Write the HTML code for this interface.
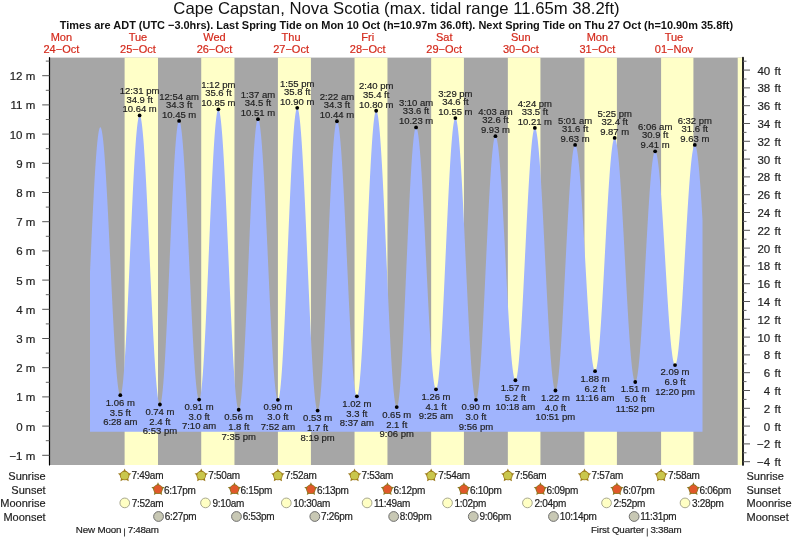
<!DOCTYPE html><html><head><meta charset="utf-8"><style>html,body{margin:0;padding:0;background:#fff;overflow:hidden}svg{display:block;will-change:transform}text{font-family:"Liberation Sans",sans-serif}.d{stroke:#222;stroke-width:0.18px}</style></head><body>
<svg width="793" height="539" viewBox="0 0 793 539">
<rect width="793" height="539" fill="#fff"/>
<rect x="50" y="57.6" width="692.5" height="407.4" fill="#a6a6a6"/>
<rect x="124.61" y="57.6" width="33.39" height="407.4" fill="#ffffc8"/>
<rect x="201.23" y="57.6" width="33.23" height="407.4" fill="#ffffc8"/>
<rect x="277.91" y="57.6" width="33.02" height="407.4" fill="#ffffc8"/>
<rect x="354.54" y="57.6" width="32.92" height="407.4" fill="#ffffc8"/>
<rect x="431.16" y="57.6" width="32.76" height="407.4" fill="#ffffc8"/>
<rect x="507.84" y="57.6" width="32.60" height="407.4" fill="#ffffc8"/>
<rect x="584.47" y="57.6" width="32.44" height="407.4" fill="#ffffc8"/>
<rect x="661.09" y="57.6" width="32.33" height="407.4" fill="#ffffc8"/>
<rect x="737.72" y="57.6" width="4.78" height="407.4" fill="#ffffc8"/>
<path d="M90.0,431.7 L90.00,272.06 L90.25,266.62 L90.50,261.19 L90.75,255.76 L91.00,250.34 L91.25,244.95 L91.50,239.60 L91.75,234.28 L92.00,229.01 L92.25,223.80 L92.50,218.66 L92.75,213.59 L93.00,208.60 L93.25,203.70 L93.50,198.89 L93.75,194.19 L94.00,189.59 L94.25,185.12 L94.50,180.77 L94.75,176.55 L95.00,172.46 L95.25,168.52 L95.50,164.73 L95.75,161.10 L96.00,157.62 L96.25,154.31 L96.50,151.18 L96.75,148.22 L97.00,145.44 L97.25,142.84 L97.50,140.43 L97.75,138.22 L98.00,136.20 L98.25,134.38 L98.50,132.76 L98.75,131.35 L99.00,130.14 L99.25,129.14 L99.50,128.35 L99.75,127.77 L100.00,127.40 L100.25,127.24 L100.50,127.30 L100.75,127.56 L101.00,128.03 L101.25,128.70 L101.50,129.58 L101.75,130.66 L102.00,131.94 L102.25,133.43 L102.50,135.10 L102.75,136.98 L103.00,139.04 L103.25,141.30 L103.50,143.74 L103.75,146.36 L104.00,149.15 L104.25,152.12 L104.50,155.26 L104.75,158.56 L105.00,162.02 L105.25,165.63 L105.50,169.39 L105.75,173.30 L106.00,177.33 L106.25,181.50 L106.50,185.79 L106.75,190.20 L107.00,194.71 L107.25,199.33 L107.50,204.05 L107.75,208.85 L108.00,213.73 L108.25,218.69 L108.50,223.71 L108.75,228.79 L109.00,233.92 L109.25,239.09 L109.50,244.29 L109.75,249.53 L110.00,254.78 L110.25,260.04 L110.50,265.30 L110.75,270.55 L111.00,275.79 L111.25,281.01 L111.50,286.20 L111.75,291.35 L112.00,296.45 L112.25,301.50 L112.50,306.48 L112.75,311.40 L113.00,316.24 L113.25,320.99 L113.50,325.65 L113.75,330.21 L114.00,334.67 L114.25,339.01 L114.50,343.23 L114.75,347.33 L115.00,351.29 L115.25,355.11 L115.50,358.79 L115.75,362.32 L116.00,365.69 L116.25,368.90 L116.50,371.95 L116.75,374.82 L117.00,377.52 L117.25,380.04 L117.50,382.37 L117.75,384.52 L118.00,386.48 L118.25,388.25 L118.50,389.81 L118.75,391.19 L119.00,392.35 L119.25,393.32 L119.50,394.09 L119.75,394.64 L120.00,395.00 L120.25,395.14 L120.50,395.08 L120.75,394.78 L121.00,394.25 L121.25,393.49 L121.50,392.50 L121.75,391.28 L122.00,389.84 L122.25,388.18 L122.50,386.29 L122.75,384.19 L123.00,381.88 L123.25,379.35 L123.50,376.62 L123.75,373.69 L124.00,370.57 L124.25,367.25 L124.50,363.75 L124.75,360.07 L125.00,356.21 L125.25,352.19 L125.50,348.01 L125.75,343.67 L126.00,339.19 L126.25,334.57 L126.50,329.82 L126.75,324.94 L127.00,319.95 L127.25,314.85 L127.50,309.65 L127.75,304.37 L128.00,299.00 L128.25,293.56 L128.50,288.05 L128.75,282.49 L129.00,276.89 L129.25,271.25 L129.50,265.59 L129.75,259.90 L130.00,254.21 L130.25,248.53 L130.50,242.85 L130.75,237.19 L131.00,231.56 L131.25,225.98 L131.50,220.44 L131.75,214.96 L132.00,209.54 L132.25,204.20 L132.50,198.95 L132.75,193.79 L133.00,188.73 L133.25,183.78 L133.50,178.95 L133.75,174.24 L134.00,169.67 L134.25,165.25 L134.50,160.97 L134.75,156.84 L135.00,152.88 L135.25,149.09 L135.50,145.48 L135.75,142.04 L136.00,138.80 L136.25,135.74 L136.50,132.89 L136.75,130.24 L137.00,127.79 L137.25,125.56 L137.50,123.54 L137.75,121.73 L138.00,120.15 L138.25,118.80 L138.50,117.67 L138.75,116.76 L139.00,116.09 L139.25,115.64 L139.50,115.43 L139.75,115.45 L140.00,115.68 L140.25,116.13 L140.50,116.80 L140.75,117.67 L141.00,118.77 L141.25,120.07 L141.50,121.58 L141.75,123.30 L142.00,125.22 L142.25,127.34 L142.50,129.67 L142.75,132.18 L143.00,134.89 L143.25,137.78 L143.50,140.86 L143.75,144.12 L144.00,147.55 L144.25,151.14 L144.50,154.90 L144.75,158.82 L145.00,162.88 L145.25,167.10 L145.50,171.45 L145.75,175.93 L146.00,180.54 L146.25,185.27 L146.50,190.11 L146.75,195.05 L147.00,200.09 L147.25,205.22 L147.50,210.44 L147.75,215.72 L148.00,221.07 L148.25,226.48 L148.50,231.94 L148.75,237.45 L149.00,242.98 L149.25,248.54 L149.50,254.12 L149.75,259.71 L150.00,265.30 L150.25,270.88 L150.50,276.44 L150.75,281.98 L151.00,287.48 L151.25,292.95 L151.50,298.36 L151.75,303.72 L152.00,309.01 L152.25,314.23 L152.50,319.37 L152.75,324.42 L153.00,329.37 L153.25,334.22 L153.50,338.96 L153.75,343.58 L154.00,348.07 L154.25,352.43 L154.50,356.66 L154.75,360.74 L155.00,364.67 L155.25,368.44 L155.50,372.05 L155.75,375.50 L156.00,378.77 L156.25,381.86 L156.50,384.77 L156.75,387.49 L157.00,390.03 L157.25,392.37 L157.50,394.51 L157.75,396.45 L158.00,398.18 L158.25,399.71 L158.50,401.03 L158.75,402.14 L159.00,403.04 L159.25,403.72 L159.50,404.19 L159.75,404.44 L160.00,404.48 L160.25,404.28 L160.50,403.85 L160.75,403.18 L161.00,402.27 L161.25,401.13 L161.50,399.76 L161.75,398.16 L162.00,396.34 L162.25,394.29 L162.50,392.02 L162.75,389.53 L163.00,386.83 L163.25,383.92 L163.50,380.81 L163.75,377.51 L164.00,374.01 L164.25,370.32 L164.50,366.45 L164.75,362.42 L165.00,358.21 L165.25,353.84 L165.50,349.32 L165.75,344.66 L166.00,339.86 L166.25,334.93 L166.50,329.88 L166.75,324.72 L167.00,319.45 L167.25,314.09 L167.50,308.64 L167.75,303.12 L168.00,297.52 L168.25,291.87 L168.50,286.18 L168.75,280.44 L169.00,274.67 L169.25,268.88 L169.50,263.08 L169.75,257.28 L170.00,251.49 L170.25,245.72 L170.50,239.98 L170.75,234.28 L171.00,228.62 L171.25,223.02 L171.50,217.49 L171.75,212.03 L172.00,206.66 L172.25,201.38 L172.50,196.20 L172.75,191.14 L173.00,186.19 L173.25,181.37 L173.50,176.69 L173.75,172.16 L174.00,167.77 L174.25,163.54 L174.50,159.48 L174.75,155.60 L175.00,151.89 L175.25,148.37 L175.50,145.03 L175.75,141.90 L176.00,138.97 L176.25,136.24 L176.50,133.73 L176.75,131.43 L177.00,129.36 L177.25,127.50 L177.50,125.87 L177.75,124.47 L178.00,123.31 L178.25,122.37 L178.50,121.67 L178.75,121.21 L179.00,120.98 L179.25,120.99 L179.50,121.22 L179.75,121.66 L180.00,122.31 L180.25,123.18 L180.50,124.25 L180.75,125.54 L181.00,127.03 L181.25,128.74 L181.50,130.64 L181.75,132.74 L182.00,135.04 L182.25,137.54 L182.50,140.22 L182.75,143.09 L183.00,146.14 L183.25,149.36 L183.50,152.76 L183.75,156.32 L184.00,160.04 L184.25,163.92 L184.50,167.94 L184.75,172.11 L185.00,176.41 L185.25,180.84 L185.50,185.40 L185.75,190.07 L186.00,194.85 L186.25,199.73 L186.50,204.70 L186.75,209.76 L187.00,214.90 L187.25,220.11 L187.50,225.38 L187.75,230.70 L188.00,236.07 L188.25,241.47 L188.50,246.91 L188.75,252.36 L189.00,257.83 L189.25,263.30 L189.50,268.77 L189.75,274.22 L190.00,279.65 L190.25,285.05 L190.50,290.42 L190.75,295.73 L191.00,300.99 L191.25,306.19 L191.50,311.32 L191.75,316.37 L192.00,321.33 L192.25,326.20 L192.50,330.97 L192.75,335.63 L193.00,340.17 L193.25,344.59 L193.50,348.88 L193.75,353.03 L194.00,357.03 L194.25,360.89 L194.50,364.60 L194.75,368.14 L195.00,371.52 L195.25,374.72 L195.50,377.75 L195.75,380.59 L196.00,383.25 L196.25,385.73 L196.50,388.00 L196.75,390.08 L197.00,391.96 L197.25,393.64 L197.50,395.11 L197.75,396.37 L198.00,397.43 L198.25,398.27 L198.50,398.89 L198.75,399.31 L199.00,399.51 L199.25,399.49 L199.50,399.23 L199.75,398.73 L200.00,397.99 L200.25,397.01 L200.50,395.80 L200.75,394.34 L201.00,392.66 L201.25,390.74 L201.50,388.60 L201.75,386.24 L202.00,383.65 L202.25,380.85 L202.50,377.84 L202.75,374.63 L203.00,371.21 L203.25,367.60 L203.50,363.80 L203.75,359.82 L204.00,355.67 L204.25,351.34 L204.50,346.86 L204.75,342.22 L205.00,337.43 L205.25,332.51 L205.50,327.45 L205.75,322.28 L206.00,316.99 L206.25,311.59 L206.50,306.11 L206.75,300.53 L207.00,294.88 L207.25,289.16 L207.50,283.39 L207.75,277.56 L208.00,271.70 L208.25,265.81 L208.50,259.90 L208.75,253.98 L209.00,248.06 L209.25,242.15 L209.50,236.26 L209.75,230.40 L210.00,224.58 L210.25,218.82 L210.50,213.11 L210.75,207.47 L211.00,201.90 L211.25,196.43 L211.50,191.05 L211.75,185.78 L212.00,180.62 L212.25,175.58 L212.50,170.68 L212.75,165.91 L213.00,161.29 L213.25,156.83 L213.50,152.53 L213.75,148.40 L214.00,144.44 L214.25,140.67 L214.50,137.09 L214.75,133.70 L215.00,130.52 L215.25,127.54 L215.50,124.77 L215.75,122.21 L216.00,119.88 L216.25,117.77 L216.50,115.89 L216.75,114.24 L217.00,112.82 L217.25,111.64 L217.50,110.70 L217.75,109.99 L218.00,109.53 L218.25,109.30 L218.50,109.32 L218.75,109.56 L219.00,110.02 L219.25,110.70 L219.50,111.61 L219.75,112.74 L220.00,114.08 L220.25,115.64 L220.50,117.42 L220.75,119.40 L221.00,121.60 L221.25,124.00 L221.50,126.60 L221.75,129.40 L222.00,132.39 L222.25,135.57 L222.50,138.94 L222.75,142.48 L223.00,146.20 L223.25,150.09 L223.50,154.14 L223.75,158.34 L224.00,162.70 L224.25,167.20 L224.50,171.84 L224.75,176.61 L225.00,181.50 L225.25,186.51 L225.50,191.63 L225.75,196.84 L226.00,202.15 L226.25,207.55 L226.50,213.02 L226.75,218.57 L227.00,224.17 L227.25,229.82 L227.50,235.52 L227.75,241.26 L228.00,247.02 L228.25,252.80 L228.50,258.60 L228.75,264.39 L229.00,270.17 L229.25,275.94 L229.50,281.69 L229.75,287.40 L230.00,293.07 L230.25,298.69 L230.50,304.26 L230.75,309.75 L231.00,315.17 L231.25,320.51 L231.50,325.76 L231.75,330.91 L232.00,335.95 L232.25,340.88 L232.50,345.69 L232.75,350.37 L233.00,354.92 L233.25,359.32 L233.50,363.58 L233.75,367.68 L234.00,371.62 L234.25,375.39 L234.50,378.99 L234.75,382.41 L235.00,385.65 L235.25,388.70 L235.50,391.56 L235.75,394.23 L236.00,396.69 L236.25,398.95 L236.50,401.00 L236.75,402.85 L237.00,404.48 L237.25,405.89 L237.50,407.08 L237.75,408.06 L238.00,408.82 L238.25,409.35 L238.50,409.66 L238.75,409.75 L239.00,409.60 L239.25,409.21 L239.50,408.58 L239.75,407.71 L240.00,406.60 L240.25,405.26 L240.50,403.68 L240.75,401.87 L241.00,399.83 L241.25,397.56 L241.50,395.08 L241.75,392.37 L242.00,389.46 L242.25,386.33 L242.50,383.01 L242.75,379.48 L243.00,375.77 L243.25,371.86 L243.50,367.78 L243.75,363.53 L244.00,359.11 L244.25,354.54 L244.50,349.82 L244.75,344.95 L245.00,339.95 L245.25,334.82 L245.50,329.58 L245.75,324.23 L246.00,318.78 L246.25,313.24 L246.50,307.61 L246.75,301.92 L247.00,296.16 L247.25,290.35 L247.50,284.50 L247.75,278.62 L248.00,272.71 L248.25,266.78 L248.50,260.86 L248.75,254.94 L249.00,249.03 L249.25,243.15 L249.50,237.31 L249.75,231.51 L250.00,225.77 L250.25,220.09 L250.50,214.48 L250.75,208.96 L251.00,203.53 L251.25,198.20 L251.50,192.99 L251.75,187.89 L252.00,182.92 L252.25,178.08 L252.50,173.39 L252.75,168.85 L253.00,164.47 L253.25,160.25 L253.50,156.21 L253.75,152.35 L254.00,148.68 L254.25,145.20 L254.50,141.91 L254.75,138.83 L255.00,135.96 L255.25,133.31 L255.50,130.87 L255.75,128.66 L256.00,126.67 L256.25,124.91 L256.50,123.38 L256.75,122.09 L257.00,121.03 L257.25,120.22 L257.50,119.64 L257.75,119.30 L258.00,119.21 L258.25,119.34 L258.50,119.69 L258.75,120.26 L259.00,121.04 L259.25,122.04 L259.50,123.25 L259.75,124.68 L260.00,126.31 L260.25,128.15 L260.50,130.19 L260.75,132.43 L261.00,134.87 L261.25,137.51 L261.50,140.33 L261.75,143.34 L262.00,146.52 L262.25,149.89 L262.50,153.42 L262.75,157.12 L263.00,160.97 L263.25,164.98 L263.50,169.14 L263.75,173.44 L264.00,177.87 L264.25,182.42 L264.50,187.10 L264.75,191.89 L265.00,196.78 L265.25,201.77 L265.50,206.85 L265.75,212.01 L266.00,217.25 L266.25,222.55 L266.50,227.91 L266.75,233.31 L267.00,238.76 L267.25,244.24 L267.50,249.75 L267.75,255.26 L268.00,260.79 L268.25,266.31 L268.50,271.83 L268.75,277.32 L269.00,282.79 L269.25,288.22 L269.50,293.60 L269.75,298.94 L270.00,304.21 L270.25,309.41 L270.50,314.53 L270.75,319.57 L271.00,324.52 L271.25,329.37 L271.50,334.10 L271.75,338.72 L272.00,343.22 L272.25,347.59 L272.50,351.82 L272.75,355.91 L273.00,359.85 L273.25,363.64 L273.50,367.26 L273.75,370.71 L274.00,374.00 L274.25,377.10 L274.50,380.03 L274.75,382.76 L275.00,385.31 L275.25,387.66 L275.50,389.81 L275.75,391.75 L276.00,393.50 L276.25,395.03 L276.50,396.36 L276.75,397.47 L277.00,398.37 L277.25,399.06 L277.50,399.52 L277.75,399.77 L278.00,399.81 L278.25,399.60 L278.50,399.15 L278.75,398.47 L279.00,397.54 L279.25,396.37 L279.50,394.97 L279.75,393.34 L280.00,391.48 L280.25,389.38 L280.50,387.06 L280.75,384.53 L281.00,381.77 L281.25,378.81 L281.50,375.63 L281.75,372.26 L282.00,368.69 L282.25,364.93 L282.50,360.98 L282.75,356.86 L283.00,352.57 L283.25,348.11 L283.50,343.50 L283.75,338.74 L284.00,333.84 L284.25,328.80 L284.50,323.64 L284.75,318.37 L285.00,312.99 L285.25,307.51 L285.50,301.95 L285.75,296.30 L286.00,290.58 L286.25,284.80 L286.50,278.97 L286.75,273.10 L287.00,267.20 L287.25,261.27 L287.50,255.34 L287.75,249.40 L288.00,243.47 L288.25,237.55 L288.50,231.66 L288.75,225.81 L289.00,220.00 L289.25,214.25 L289.50,208.57 L289.75,202.96 L290.00,197.44 L290.25,192.01 L290.50,186.68 L290.75,181.46 L291.00,176.36 L291.25,171.39 L291.50,166.56 L291.75,161.87 L292.00,157.33 L292.25,152.95 L292.50,148.74 L292.75,144.71 L293.00,140.85 L293.25,137.18 L293.50,133.71 L293.75,130.43 L294.00,127.36 L294.25,124.49 L294.50,121.84 L294.75,119.41 L295.00,117.21 L295.25,115.22 L295.50,113.47 L295.75,111.95 L296.00,110.67 L296.25,109.62 L296.50,108.81 L296.75,108.24 L297.00,107.91 L297.25,107.82 L297.50,107.97 L297.75,108.33 L298.00,108.92 L298.25,109.74 L298.50,110.77 L298.75,112.02 L299.00,113.49 L299.25,115.18 L299.50,117.08 L299.75,119.19 L300.00,121.51 L300.25,124.03 L300.50,126.75 L300.75,129.66 L301.00,132.77 L301.25,136.07 L301.50,139.55 L301.75,143.20 L302.00,147.03 L302.25,151.02 L302.50,155.17 L302.75,159.48 L303.00,163.93 L303.25,168.53 L303.50,173.26 L303.75,178.11 L304.00,183.09 L304.25,188.18 L304.50,193.37 L304.75,198.66 L305.00,204.04 L305.25,209.50 L305.50,215.04 L305.75,220.64 L306.00,226.30 L306.25,232.01 L306.50,237.75 L306.75,243.53 L307.00,249.34 L307.25,255.15 L307.50,260.98 L307.75,266.80 L308.00,272.60 L308.25,278.39 L308.50,284.16 L308.75,289.88 L309.00,295.56 L309.25,301.18 L309.50,306.75 L309.75,312.24 L310.00,317.65 L310.25,322.98 L310.50,328.21 L310.75,333.35 L311.00,338.37 L311.25,343.27 L311.50,348.05 L311.75,352.70 L312.00,357.21 L312.25,361.58 L312.50,365.79 L312.75,369.85 L313.00,373.74 L313.25,377.47 L313.50,381.01 L313.75,384.38 L314.00,387.57 L314.25,390.56 L314.50,393.36 L314.75,395.96 L315.00,398.36 L315.25,400.55 L315.50,402.53 L315.75,404.31 L316.00,405.86 L316.25,407.20 L316.50,408.32 L316.75,409.22 L317.00,409.90 L317.25,410.36 L317.50,410.59 L317.75,410.60 L318.00,410.37 L318.25,409.90 L318.50,409.19 L318.75,408.25 L319.00,407.06 L319.25,405.65 L319.50,404.00 L319.75,402.13 L320.00,400.03 L320.25,397.71 L320.50,395.17 L320.75,392.42 L321.00,389.45 L321.25,386.29 L321.50,382.92 L321.75,379.36 L322.00,375.61 L322.25,371.68 L322.50,367.58 L322.75,363.30 L323.00,358.87 L323.25,354.28 L323.50,349.55 L323.75,344.68 L324.00,339.67 L324.25,334.55 L324.50,329.31 L324.75,323.97 L325.00,318.53 L325.25,313.00 L325.50,307.40 L325.75,301.72 L326.00,295.99 L326.25,290.21 L326.50,284.39 L326.75,278.53 L327.00,272.66 L327.25,266.78 L327.50,260.89 L327.75,255.01 L328.00,249.15 L328.25,243.32 L328.50,237.53 L328.75,231.78 L329.00,226.09 L329.25,220.46 L329.50,214.91 L329.75,209.45 L330.00,204.08 L330.25,198.81 L330.50,193.65 L330.75,188.61 L331.00,183.70 L331.25,178.93 L331.50,174.30 L331.75,169.82 L332.00,165.50 L332.25,161.34 L332.50,157.36 L332.75,153.56 L333.00,149.95 L333.25,146.53 L333.50,143.30 L333.75,140.28 L334.00,137.47 L334.25,134.87 L334.50,132.48 L334.75,130.32 L335.00,128.38 L335.25,126.67 L335.50,125.19 L335.75,123.94 L336.00,122.93 L336.25,122.16 L336.50,121.62 L336.75,121.32 L337.00,121.26 L337.25,121.42 L337.50,121.79 L337.75,122.38 L338.00,123.18 L338.25,124.18 L338.50,125.40 L338.75,126.83 L339.00,128.45 L339.25,130.28 L339.50,132.31 L339.75,134.54 L340.00,136.96 L340.25,139.57 L340.50,142.36 L340.75,145.33 L341.00,148.48 L341.25,151.80 L341.50,155.29 L341.75,158.93 L342.00,162.74 L342.25,166.69 L342.50,170.78 L342.75,175.01 L343.00,179.37 L343.25,183.85 L343.50,188.45 L343.75,193.16 L344.00,197.97 L344.25,202.88 L344.50,207.87 L344.75,212.94 L345.00,218.08 L345.25,223.28 L345.50,228.54 L345.75,233.85 L346.00,239.19 L346.25,244.57 L346.50,249.97 L346.75,255.38 L347.00,260.80 L347.25,266.21 L347.50,271.61 L347.75,276.99 L348.00,282.35 L348.25,287.66 L348.50,292.94 L348.75,298.16 L349.00,303.31 L349.25,308.40 L349.50,313.42 L349.75,318.34 L350.00,323.18 L350.25,327.91 L350.50,332.54 L350.75,337.06 L351.00,341.45 L351.25,345.71 L351.50,349.84 L351.75,353.83 L352.00,357.67 L352.25,361.36 L352.50,364.88 L352.75,368.25 L353.00,371.44 L353.25,374.46 L353.50,377.30 L353.75,379.96 L354.00,382.42 L354.25,384.70 L354.50,386.78 L354.75,388.66 L355.00,390.34 L355.25,391.82 L355.50,393.09 L355.75,394.15 L356.00,395.00 L356.25,395.64 L356.50,396.07 L356.75,396.29 L357.00,396.29 L357.25,396.05 L357.50,395.58 L357.75,394.88 L358.00,393.94 L358.25,392.77 L358.50,391.37 L358.75,389.74 L359.00,387.88 L359.25,385.80 L359.50,383.51 L359.75,380.99 L360.00,378.27 L360.25,375.34 L360.50,372.21 L360.75,368.88 L361.00,365.36 L361.25,361.66 L361.50,357.78 L361.75,353.72 L362.00,349.50 L362.25,345.12 L362.50,340.59 L362.75,335.91 L363.00,331.10 L363.25,326.16 L363.50,321.10 L363.75,315.93 L364.00,310.65 L364.25,305.28 L364.50,299.82 L364.75,294.29 L365.00,288.69 L365.25,283.03 L365.50,277.32 L365.75,271.58 L366.00,265.80 L366.25,260.00 L366.50,254.20 L366.75,248.39 L367.00,242.59 L367.25,236.80 L367.50,231.05 L367.75,225.33 L368.00,219.66 L368.25,214.05 L368.50,208.50 L368.75,203.02 L369.00,197.63 L369.25,192.33 L369.50,187.14 L369.75,182.05 L370.00,177.08 L370.25,172.24 L370.50,167.53 L370.75,162.97 L371.00,158.55 L371.25,154.29 L371.50,150.20 L371.75,146.27 L372.00,142.53 L372.25,138.97 L372.50,135.59 L372.75,132.42 L373.00,129.44 L373.25,126.67 L373.50,124.11 L373.75,121.76 L374.00,119.63 L374.25,117.73 L374.50,116.04 L374.75,114.59 L375.00,113.37 L375.25,112.37 L375.50,111.61 L375.75,111.09 L376.00,110.80 L376.25,110.75 L376.50,110.92 L376.75,111.30 L377.00,111.91 L377.25,112.72 L377.50,113.75 L377.75,115.00 L378.00,116.45 L378.25,118.12 L378.50,119.98 L378.75,122.06 L379.00,124.33 L379.25,126.80 L379.50,129.46 L379.75,132.32 L380.00,135.36 L380.25,138.58 L380.50,141.97 L380.75,145.54 L381.00,149.27 L381.25,153.16 L381.50,157.21 L381.75,161.41 L382.00,165.75 L382.25,170.23 L382.50,174.83 L382.75,179.56 L383.00,184.41 L383.25,189.36 L383.50,194.42 L383.75,199.57 L384.00,204.81 L384.25,210.12 L384.50,215.51 L384.75,220.96 L385.00,226.47 L385.25,232.03 L385.50,237.62 L385.75,243.25 L386.00,248.89 L386.25,254.56 L386.50,260.23 L386.75,265.90 L387.00,271.55 L387.25,277.19 L387.50,282.81 L387.75,288.38 L388.00,293.92 L388.25,299.40 L388.50,304.82 L388.75,310.18 L389.00,315.46 L389.25,320.66 L389.50,325.77 L389.75,330.78 L390.00,335.69 L390.25,340.48 L390.50,345.15 L390.75,349.70 L391.00,354.12 L391.25,358.39 L391.50,362.52 L391.75,366.50 L392.00,370.32 L392.25,373.98 L392.50,377.47 L392.75,380.78 L393.00,383.92 L393.25,386.87 L393.50,389.64 L393.75,392.21 L394.00,394.59 L394.25,396.78 L394.50,398.76 L394.75,400.53 L395.00,402.10 L395.25,403.46 L395.50,404.60 L395.75,405.54 L396.00,406.26 L396.25,406.76 L396.50,407.05 L396.75,407.12 L397.00,406.96 L397.25,406.57 L397.50,405.96 L397.75,405.12 L398.00,404.04 L398.25,402.75 L398.50,401.23 L398.75,399.49 L399.00,397.53 L399.25,395.36 L399.50,392.98 L399.75,390.39 L400.00,387.60 L400.25,384.61 L400.50,381.42 L400.75,378.05 L401.00,374.50 L401.25,370.77 L401.50,366.86 L401.75,362.80 L402.00,358.58 L402.25,354.21 L402.50,349.69 L402.75,345.04 L403.00,340.26 L403.25,335.36 L403.50,330.35 L403.75,325.23 L404.00,320.02 L404.25,314.72 L404.50,309.35 L404.75,303.90 L405.00,298.39 L405.25,292.84 L405.50,287.24 L405.75,281.61 L406.00,275.95 L406.25,270.28 L406.50,264.61 L406.75,258.93 L407.00,253.28 L407.25,247.64 L407.50,242.04 L407.75,236.48 L408.00,230.97 L408.25,225.52 L408.50,220.14 L408.75,214.84 L409.00,209.62 L409.25,204.50 L409.50,199.48 L409.75,194.57 L410.00,189.78 L410.25,185.12 L410.50,180.60 L410.75,176.22 L411.00,171.98 L411.25,167.91 L411.50,163.99 L411.75,160.25 L412.00,156.69 L412.25,153.30 L412.50,150.11 L412.75,147.10 L413.00,144.30 L413.25,141.69 L413.50,139.30 L413.75,137.11 L414.00,135.14 L414.25,133.38 L414.50,131.85 L414.75,130.54 L415.00,129.45 L415.25,128.59 L415.50,127.96 L415.75,127.56 L416.00,127.39 L416.25,127.44 L416.50,127.70 L416.75,128.15 L417.00,128.81 L417.25,129.67 L417.50,130.73 L417.75,131.99 L418.00,133.45 L418.25,135.09 L418.50,136.93 L418.75,138.96 L419.00,141.17 L419.25,143.57 L419.50,146.14 L419.75,148.88 L420.00,151.80 L420.25,154.88 L420.50,158.12 L420.75,161.52 L421.00,165.07 L421.25,168.76 L421.50,172.59 L421.75,176.55 L422.00,180.65 L422.25,184.86 L422.50,189.18 L422.75,193.61 L423.00,198.15 L423.25,202.77 L423.50,207.49 L423.75,212.28 L424.00,217.14 L424.25,222.07 L424.50,227.05 L424.75,232.08 L425.00,237.16 L425.25,242.26 L425.50,247.39 L425.75,252.54 L426.00,257.69 L426.25,262.85 L426.50,268.00 L426.75,273.14 L427.00,278.25 L427.25,283.33 L427.50,288.37 L427.75,293.37 L428.00,298.31 L428.25,303.19 L428.50,308.00 L428.75,312.74 L429.00,317.38 L429.25,321.94 L429.50,326.40 L429.75,330.75 L430.00,334.99 L430.25,339.12 L430.50,343.11 L430.75,346.98 L431.00,350.71 L431.25,354.29 L431.50,357.73 L431.75,361.01 L432.00,364.13 L432.25,367.09 L432.50,369.88 L432.75,372.49 L433.00,374.93 L433.25,377.19 L433.50,379.27 L433.75,381.15 L434.00,382.85 L434.25,384.35 L434.50,385.66 L434.75,386.77 L435.00,387.68 L435.25,388.39 L435.50,388.90 L435.75,389.20 L436.00,389.31 L436.25,389.20 L436.50,388.86 L436.75,388.31 L437.00,387.53 L437.25,386.53 L437.50,385.32 L437.75,383.88 L438.00,382.24 L438.25,380.38 L438.50,378.31 L438.75,376.04 L439.00,373.56 L439.25,370.89 L439.50,368.03 L439.75,364.97 L440.00,361.74 L440.25,358.32 L440.50,354.74 L440.75,350.98 L441.00,347.07 L441.25,343.01 L441.50,338.79 L441.75,334.44 L442.00,329.95 L442.25,325.34 L442.50,320.61 L442.75,315.77 L443.00,310.82 L443.25,305.79 L443.50,300.66 L443.75,295.46 L444.00,290.20 L444.25,284.87 L444.50,279.49 L444.75,274.06 L445.00,268.61 L445.25,263.13 L445.50,257.63 L445.75,252.13 L446.00,246.63 L446.25,241.14 L446.50,235.67 L446.75,230.23 L447.00,224.83 L447.25,219.48 L447.50,214.18 L447.75,208.95 L448.00,203.79 L448.25,198.72 L448.50,193.73 L448.75,188.85 L449.00,184.07 L449.25,179.40 L449.50,174.86 L449.75,170.45 L450.00,166.17 L450.25,162.04 L450.50,158.06 L450.75,154.23 L451.00,150.57 L451.25,147.08 L451.50,143.77 L451.75,140.63 L452.00,137.69 L452.25,134.93 L452.50,132.37 L452.75,130.01 L453.00,127.85 L453.25,125.90 L453.50,124.16 L453.75,122.63 L454.00,121.32 L454.25,120.23 L454.50,119.35 L454.75,118.70 L455.00,118.27 L455.25,118.06 L455.50,118.07 L455.75,118.29 L456.00,118.72 L456.25,119.35 L456.50,120.18 L456.75,121.21 L457.00,122.45 L457.25,123.88 L457.50,125.51 L457.75,127.33 L458.00,129.35 L458.25,131.55 L458.50,133.94 L458.75,136.52 L459.00,139.27 L459.25,142.19 L459.50,145.29 L459.75,148.55 L460.00,151.97 L460.25,155.54 L460.50,159.27 L460.75,163.14 L461.00,167.16 L461.25,171.30 L461.50,175.58 L461.75,179.97 L462.00,184.48 L462.25,189.10 L462.50,193.82 L462.75,198.63 L463.00,203.53 L463.25,208.52 L463.50,213.57 L463.75,218.70 L464.00,223.88 L464.25,229.11 L464.50,234.39 L464.75,239.70 L465.00,245.04 L465.25,250.40 L465.50,255.77 L465.75,261.15 L466.00,266.52 L466.25,271.88 L466.50,277.23 L466.75,282.54 L467.00,287.83 L467.25,293.07 L467.50,298.26 L467.75,303.39 L468.00,308.46 L468.25,313.46 L468.50,318.37 L468.75,323.20 L469.00,327.94 L469.25,332.58 L469.50,337.11 L469.75,341.52 L470.00,345.82 L470.25,349.99 L470.50,354.02 L470.75,357.92 L471.00,361.67 L471.25,365.28 L471.50,368.72 L471.75,372.01 L472.00,375.14 L472.25,378.09 L472.50,380.87 L472.75,383.48 L473.00,385.90 L473.25,388.14 L473.50,390.19 L473.75,392.05 L474.00,393.71 L474.25,395.18 L474.50,396.45 L474.75,397.52 L475.00,398.38 L475.25,399.05 L475.50,399.51 L475.75,399.76 L476.00,399.81 L476.25,399.65 L476.50,399.28 L476.75,398.69 L477.00,397.89 L477.25,396.88 L477.50,395.66 L477.75,394.24 L478.00,392.61 L478.25,390.78 L478.50,388.75 L478.75,386.53 L479.00,384.11 L479.25,381.50 L479.50,378.71 L479.75,375.74 L480.00,372.60 L480.25,369.29 L480.50,365.81 L480.75,362.18 L481.00,358.39 L481.25,354.46 L481.50,350.38 L481.75,346.17 L482.00,341.84 L482.25,337.39 L482.50,332.82 L482.75,328.15 L483.00,323.38 L483.25,318.52 L483.50,313.58 L483.75,308.57 L484.00,303.49 L484.25,298.35 L484.50,293.17 L484.75,287.94 L485.00,282.68 L485.25,277.40 L485.50,272.10 L485.75,266.79 L486.00,261.49 L486.25,256.20 L486.50,250.92 L486.75,245.68 L487.00,240.47 L487.25,235.30 L487.50,230.19 L487.75,225.14 L488.00,220.16 L488.25,215.25 L488.50,210.43 L488.75,205.71 L489.00,201.08 L489.25,196.56 L489.50,192.16 L489.75,187.89 L490.00,183.74 L490.25,179.73 L490.50,175.86 L490.75,172.14 L491.00,168.57 L491.25,165.17 L491.50,161.93 L491.75,158.87 L492.00,155.98 L492.25,153.27 L492.50,150.75 L492.75,148.42 L493.00,146.28 L493.25,144.34 L493.50,142.60 L493.75,141.06 L494.00,139.73 L494.25,138.60 L494.50,137.69 L494.75,136.98 L495.00,136.49 L495.25,136.21 L495.50,136.15 L495.75,136.28 L496.00,136.60 L496.25,137.11 L496.50,137.81 L496.75,138.69 L497.00,139.76 L497.25,141.01 L497.50,142.45 L497.75,144.06 L498.00,145.85 L498.25,147.82 L498.50,149.95 L498.75,152.26 L499.00,154.73 L499.25,157.36 L499.50,160.14 L499.75,163.08 L500.00,166.16 L500.25,169.39 L500.50,172.76 L500.75,176.26 L501.00,179.88 L501.25,183.63 L501.50,187.49 L501.75,191.46 L502.00,195.54 L502.25,199.71 L502.50,203.98 L502.75,208.33 L503.00,212.75 L503.25,217.25 L503.50,221.81 L503.75,226.42 L504.00,231.09 L504.25,235.79 L504.50,240.54 L504.75,245.30 L505.00,250.09 L505.25,254.90 L505.50,259.70 L505.75,264.51 L506.00,269.30 L506.25,274.08 L506.50,278.83 L506.75,283.55 L507.00,288.24 L507.25,292.87 L507.50,297.45 L507.75,301.97 L508.00,306.42 L508.25,310.80 L508.50,315.10 L508.75,319.31 L509.00,323.42 L509.25,327.43 L509.50,331.34 L509.75,335.13 L510.00,338.80 L510.25,342.35 L510.50,345.76 L510.75,349.04 L511.00,352.18 L511.25,355.18 L511.50,358.02 L511.75,360.71 L512.00,363.24 L512.25,365.60 L512.50,367.80 L512.75,369.83 L513.00,371.69 L513.25,373.37 L513.50,374.87 L513.75,376.19 L514.00,377.33 L514.25,378.29 L514.50,379.05 L514.75,379.63 L515.00,380.02 L515.25,380.23 L515.50,380.24 L515.75,380.05 L516.00,379.65 L516.25,379.05 L516.50,378.24 L516.75,377.24 L517.00,376.03 L517.25,374.63 L517.50,373.02 L517.75,371.23 L518.00,369.24 L518.25,367.07 L518.50,364.71 L518.75,362.17 L519.00,359.46 L519.25,356.58 L519.50,353.52 L519.75,350.31 L520.00,346.94 L520.25,343.42 L520.50,339.75 L520.75,335.95 L521.00,332.01 L521.25,327.94 L521.50,323.75 L521.75,319.45 L522.00,315.05 L522.25,310.54 L522.50,305.94 L522.75,301.26 L523.00,296.50 L523.25,291.68 L523.50,286.79 L523.75,281.84 L524.00,276.86 L524.25,271.83 L524.50,266.78 L524.75,261.71 L525.00,256.62 L525.25,251.53 L525.50,246.44 L525.75,241.37 L526.00,236.32 L526.25,231.29 L526.50,226.31 L526.75,221.37 L527.00,216.48 L527.25,211.65 L527.50,206.89 L527.75,202.21 L528.00,197.62 L528.25,193.11 L528.50,188.71 L528.75,184.41 L529.00,180.22 L529.25,176.16 L529.50,172.22 L529.75,168.42 L530.00,164.75 L530.25,161.23 L530.50,157.86 L530.75,154.65 L531.00,151.60 L531.25,148.72 L531.50,146.01 L531.75,143.48 L532.00,141.12 L532.25,138.95 L532.50,136.97 L532.75,135.17 L533.00,133.58 L533.25,132.17 L533.50,130.97 L533.75,129.97 L534.00,129.17 L534.25,128.57 L534.50,128.17 L534.75,127.99 L535.00,128.00 L535.25,128.21 L535.50,128.61 L535.75,129.19 L536.00,129.97 L536.25,130.94 L536.50,132.09 L536.75,133.43 L537.00,134.95 L537.25,136.65 L537.50,138.53 L537.75,140.59 L538.00,142.82 L538.25,145.21 L538.50,147.78 L538.75,150.51 L539.00,153.39 L539.25,156.43 L539.50,159.62 L539.75,162.95 L540.00,166.43 L540.25,170.04 L540.50,173.78 L540.75,177.64 L541.00,181.62 L541.25,185.72 L541.50,189.92 L541.75,194.22 L542.00,198.62 L542.25,203.11 L542.50,207.68 L542.75,212.32 L543.00,217.03 L543.25,221.81 L543.50,226.63 L543.75,231.51 L544.00,236.42 L544.25,241.37 L544.50,246.35 L544.75,251.34 L545.00,256.35 L545.25,261.35 L545.50,266.36 L545.75,271.36 L546.00,276.33 L546.25,281.29 L546.50,286.21 L546.75,291.09 L547.00,295.92 L547.25,300.71 L547.50,305.43 L547.75,310.08 L548.00,314.66 L548.25,319.16 L548.50,323.57 L548.75,327.89 L549.00,332.11 L549.25,336.22 L549.50,340.22 L549.75,344.10 L550.00,347.86 L550.25,351.49 L550.50,354.98 L550.75,358.34 L551.00,361.55 L551.25,364.61 L551.50,367.52 L551.75,370.27 L552.00,372.86 L552.25,375.28 L552.50,377.54 L552.75,379.62 L553.00,381.53 L553.25,383.25 L553.50,384.80 L553.75,386.17 L554.00,387.35 L554.25,388.34 L554.50,389.15 L554.75,389.76 L555.00,390.19 L555.25,390.42 L555.50,390.47 L555.75,390.32 L556.00,389.97 L556.25,389.43 L556.50,388.70 L556.75,387.77 L557.00,386.65 L557.25,385.34 L557.50,383.85 L557.75,382.17 L558.00,380.30 L558.25,378.26 L558.50,376.04 L558.75,373.65 L559.00,371.09 L559.25,368.37 L559.50,365.48 L559.75,362.44 L560.00,359.25 L560.25,355.91 L560.50,352.43 L560.75,348.82 L561.00,345.08 L561.25,341.21 L561.50,337.23 L561.75,333.13 L562.00,328.93 L562.25,324.64 L562.50,320.25 L562.75,315.78 L563.00,311.23 L563.25,306.62 L563.50,301.94 L563.75,297.21 L564.00,292.43 L564.25,287.61 L564.50,282.75 L564.75,277.88 L565.00,272.99 L565.25,268.09 L565.50,263.19 L565.75,258.29 L566.00,253.42 L566.25,248.56 L566.50,243.74 L566.75,238.95 L567.00,234.21 L567.25,229.52 L567.50,224.89 L567.75,220.33 L568.00,215.85 L568.25,211.45 L568.50,207.14 L568.75,202.92 L569.00,198.81 L569.25,194.81 L569.50,190.92 L569.75,187.16 L570.00,183.53 L570.25,180.03 L570.50,176.66 L570.75,173.45 L571.00,170.38 L571.25,167.47 L571.50,164.72 L571.75,162.13 L572.00,159.71 L572.25,157.47 L572.50,155.40 L572.75,153.50 L573.00,151.79 L573.25,150.27 L573.50,148.93 L573.75,147.78 L574.00,146.82 L574.25,146.05 L574.50,145.48 L574.75,145.10 L575.00,144.92 L575.25,144.93 L575.50,145.12 L575.75,145.48 L576.00,146.02 L576.25,146.73 L576.50,147.62 L576.75,148.67 L577.00,149.90 L577.25,151.29 L577.50,152.85 L577.75,154.57 L578.00,156.45 L578.25,158.49 L578.50,160.68 L578.75,163.03 L579.00,165.52 L579.25,168.16 L579.50,170.93 L579.75,173.84 L580.00,176.88 L580.25,180.05 L580.50,183.34 L580.75,186.74 L581.00,190.26 L581.25,193.88 L581.50,197.60 L581.75,201.41 L582.00,205.31 L582.25,209.29 L582.50,213.35 L582.75,217.48 L583.00,221.67 L583.25,225.92 L583.50,230.21 L583.75,234.55 L584.00,238.93 L584.25,243.34 L584.50,247.76 L584.75,252.21 L585.00,256.66 L585.25,261.12 L585.50,265.57 L585.75,270.01 L586.00,274.43 L586.25,278.83 L586.50,283.19 L586.75,287.52 L587.00,291.80 L587.25,296.02 L587.50,300.19 L587.75,304.29 L588.00,308.32 L588.25,312.28 L588.50,316.14 L588.75,319.92 L589.00,323.60 L589.25,327.19 L589.50,330.66 L589.75,334.02 L590.00,337.26 L590.25,340.38 L590.50,343.38 L590.75,346.24 L591.00,348.96 L591.25,351.54 L591.50,353.98 L591.75,356.27 L592.00,358.40 L592.25,360.38 L592.50,362.21 L592.75,363.87 L593.00,365.36 L593.25,366.69 L593.50,367.85 L593.75,368.85 L594.00,369.66 L594.25,370.31 L594.50,370.78 L594.75,371.08 L595.00,371.20 L595.25,371.14 L595.50,370.90 L595.75,370.47 L596.00,369.85 L596.25,369.05 L596.50,368.07 L596.75,366.90 L597.00,365.55 L597.25,364.03 L597.50,362.33 L597.75,360.46 L598.00,358.42 L598.25,356.21 L598.50,353.84 L598.75,351.31 L599.00,348.62 L599.25,345.79 L599.50,342.81 L599.75,339.68 L600.00,336.42 L600.25,333.03 L600.50,329.52 L600.75,325.88 L601.00,322.13 L601.25,318.27 L601.50,314.31 L601.75,310.25 L602.00,306.10 L602.25,301.88 L602.50,297.57 L602.75,293.20 L603.00,288.76 L603.25,284.27 L603.50,279.73 L603.75,275.16 L604.00,270.54 L604.25,265.91 L604.50,261.25 L604.75,256.59 L605.00,251.92 L605.25,247.25 L605.50,242.60 L605.75,237.97 L606.00,233.36 L606.25,228.79 L606.50,224.25 L606.75,219.77 L607.00,215.34 L607.25,210.98 L607.50,206.68 L607.75,202.46 L608.00,198.33 L608.25,194.28 L608.50,190.33 L608.75,186.49 L609.00,182.75 L609.25,179.13 L609.50,175.63 L609.75,172.25 L610.00,169.01 L610.25,165.91 L610.50,162.94 L610.75,160.13 L611.00,157.46 L611.25,154.95 L611.50,152.60 L611.75,150.41 L612.00,148.39 L612.25,146.54 L612.50,144.87 L612.75,143.36 L613.00,142.04 L613.25,140.90 L613.50,139.94 L613.75,139.16 L614.00,138.57 L614.25,138.16 L614.50,137.94 L614.75,137.91 L615.00,138.05 L615.25,138.37 L615.50,138.87 L615.75,139.55 L616.00,140.40 L616.25,141.43 L616.50,142.63 L616.75,144.00 L617.00,145.54 L617.25,147.24 L617.50,149.11 L617.75,151.14 L618.00,153.33 L618.25,155.68 L618.50,158.17 L618.75,160.82 L619.00,163.61 L619.25,166.54 L619.50,169.60 L619.75,172.80 L620.00,176.12 L620.25,179.57 L620.50,183.13 L620.75,186.81 L621.00,190.59 L621.25,194.47 L621.50,198.45 L621.75,202.52 L622.00,206.67 L622.25,210.90 L622.50,215.20 L622.75,219.56 L623.00,223.99 L623.25,228.46 L623.50,232.99 L623.75,237.55 L624.00,242.14 L624.25,246.76 L624.50,251.40 L624.75,256.05 L625.00,260.71 L625.25,265.37 L625.50,270.02 L625.75,274.65 L626.00,279.26 L626.25,283.85 L626.50,288.40 L626.75,292.91 L627.00,297.37 L627.25,301.77 L627.50,306.12 L627.75,310.39 L628.00,314.60 L628.25,318.72 L628.50,322.76 L628.75,326.71 L629.00,330.56 L629.25,334.31 L629.50,337.95 L629.75,341.47 L630.00,344.88 L630.25,348.16 L630.50,351.32 L630.75,354.34 L631.00,357.22 L631.25,359.96 L631.50,362.56 L631.75,365.01 L632.00,367.30 L632.25,369.44 L632.50,371.42 L632.75,373.24 L633.00,374.89 L633.25,376.37 L633.50,377.68 L633.75,378.83 L634.00,379.80 L634.25,380.59 L634.50,381.21 L634.75,381.65 L635.00,381.92 L635.25,382.01 L635.50,381.92 L635.75,381.65 L636.00,381.20 L636.25,380.57 L636.50,379.76 L636.75,378.78 L637.00,377.62 L637.25,376.29 L637.50,374.79 L637.75,373.12 L638.00,371.28 L638.25,369.29 L638.50,367.13 L638.75,364.81 L639.00,362.34 L639.25,359.72 L639.50,356.96 L639.75,354.06 L640.00,351.02 L640.25,347.84 L640.50,344.55 L640.75,341.13 L641.00,337.59 L641.25,333.94 L641.50,330.19 L641.75,326.34 L642.00,322.40 L642.25,318.37 L642.50,314.26 L642.75,310.07 L643.00,305.82 L643.25,301.50 L643.50,297.14 L643.75,292.72 L644.00,288.26 L644.25,283.77 L644.50,279.26 L644.75,274.72 L645.00,270.17 L645.25,265.62 L645.50,261.06 L645.75,256.52 L646.00,251.99 L646.25,247.49 L646.50,243.01 L646.75,238.57 L647.00,234.18 L647.25,229.83 L647.50,225.55 L647.75,221.32 L648.00,217.17 L648.25,213.10 L648.50,209.11 L648.75,205.21 L649.00,201.40 L649.25,197.70 L649.50,194.10 L649.75,190.62 L650.00,187.25 L650.25,184.01 L650.50,180.90 L650.75,177.92 L651.00,175.08 L651.25,172.39 L651.50,169.84 L651.75,167.44 L652.00,165.19 L652.25,163.11 L652.50,161.18 L652.75,159.42 L653.00,157.83 L653.25,156.41 L653.50,155.16 L653.75,154.08 L654.00,153.18 L654.25,152.46 L654.50,151.91 L654.75,151.54 L655.00,151.35 L655.25,151.35 L655.50,151.50 L655.75,151.83 L656.00,152.32 L656.25,152.98 L656.50,153.80 L656.75,154.78 L657.00,155.93 L657.25,157.23 L657.50,158.69 L657.75,160.31 L658.00,162.08 L658.25,164.00 L658.50,166.07 L658.75,168.28 L659.00,170.63 L659.25,173.11 L659.50,175.73 L659.75,178.48 L660.00,181.35 L660.25,184.35 L660.50,187.45 L660.75,190.67 L661.00,193.99 L661.25,197.42 L661.50,200.93 L661.75,204.54 L662.00,208.23 L662.25,212.00 L662.50,215.84 L662.75,219.75 L663.00,223.72 L663.25,227.74 L663.50,231.81 L663.75,235.91 L664.00,240.06 L664.25,244.23 L664.50,248.43 L664.75,252.64 L665.00,256.85 L665.25,261.07 L665.50,265.29 L665.75,269.49 L666.00,273.68 L666.25,277.84 L666.50,281.98 L666.75,286.07 L667.00,290.12 L667.25,294.13 L667.50,298.07 L667.75,301.95 L668.00,305.77 L668.25,309.51 L668.50,313.17 L668.75,316.75 L669.00,320.23 L669.25,323.62 L669.50,326.91 L669.75,330.08 L670.00,333.15 L670.25,336.10 L670.50,338.93 L670.75,341.63 L671.00,344.20 L671.25,346.64 L671.50,348.94 L671.75,351.10 L672.00,353.11 L672.25,354.98 L672.50,356.69 L672.75,358.25 L673.00,359.66 L673.25,360.91 L673.50,361.99 L673.75,362.92 L674.00,363.68 L674.25,364.28 L674.50,364.71 L674.75,364.97 L675.00,365.07 L675.25,365.00 L675.50,364.76 L675.75,364.34 L676.00,363.75 L676.25,362.99 L676.50,362.06 L676.75,360.96 L677.00,359.69 L677.25,358.26 L677.50,356.67 L677.75,354.91 L678.00,353.00 L678.25,350.93 L678.50,348.71 L678.75,346.35 L679.00,343.84 L679.25,341.19 L679.50,338.40 L679.75,335.49 L680.00,332.44 L680.25,329.28 L680.50,325.99 L680.75,322.60 L681.00,319.10 L681.25,315.49 L681.50,311.79 L681.75,308.01 L682.00,304.14 L682.25,300.19 L682.50,296.17 L682.75,292.08 L683.00,287.94 L683.25,283.74 L683.50,279.50 L683.75,275.22 L684.00,270.91 L684.25,266.58 L684.50,262.22 L684.75,257.86 L685.00,253.49 L685.25,249.12 L685.50,244.76 L685.75,240.42 L686.00,236.10 L686.25,231.81 L686.50,227.55 L686.75,223.34 L687.00,219.18 L687.25,215.08 L687.50,211.04 L687.75,207.07 L688.00,203.17 L688.25,199.36 L688.50,195.63 L688.75,192.00 L689.00,188.46 L689.25,185.03 L689.50,181.71 L689.75,178.51 L690.00,175.43 L690.25,172.47 L690.50,169.64 L690.75,166.95 L691.00,164.40 L691.25,161.98 L691.50,159.72 L691.75,157.61 L692.00,155.64 L692.25,153.84 L692.50,152.20 L692.75,150.71 L693.00,149.39 L693.25,148.24 L693.50,147.26 L693.75,146.44 L694.00,145.80 L694.25,145.33 L694.50,145.03 L694.75,144.91 L695.00,144.96 L695.25,145.19 L695.50,145.59 L695.75,146.18 L696.00,146.94 L696.25,147.88 L696.50,148.99 L696.75,150.27 L697.00,151.72 L697.25,153.35 L697.50,155.13 L697.75,157.08 L698.00,159.19 L698.25,161.46 L698.50,163.88 L698.75,166.45 L699.00,169.16 L699.25,172.02 L699.50,175.01 L699.75,178.14 L700.00,181.39 L700.25,184.76 L700.50,188.25 L700.75,191.86 L701.00,195.56 L701.25,199.37 L701.50,203.28 L701.75,207.27 L702.00,211.35 L702.25,215.50 L702.50,219.72 L702.5,431.7 Z" fill="#a0b4fd"/>
<text x="396.5" y="14.0" font-size="16.72" text-anchor="middle" fill="#111">Cape Capstan, Nova Scotia (max. tidal range 11.65m 38.2ft)</text>
<text x="396.5" y="28.7" font-size="10.95" font-weight="bold" text-anchor="middle" fill="#111">Times are ADT (UTC −3.0hrs). Last Spring Tide on Mon 10 Oct (h=10.97m 36.0ft). Next Spring Tide on Thu 27 Oct (h=10.90m 35.8ft)</text>
<text x="61.38" y="41.3" font-size="11" text-anchor="middle" fill="#d42a1c" stroke="#d42a1c" stroke-width="0.2">Mon</text>
<text x="61.38" y="52.6" font-size="11" text-anchor="middle" fill="#d42a1c" stroke="#d42a1c" stroke-width="0.2">24−Oct</text>
<text x="137.96" y="41.3" font-size="11" text-anchor="middle" fill="#d42a1c" stroke="#d42a1c" stroke-width="0.2">Tue</text>
<text x="137.96" y="52.6" font-size="11" text-anchor="middle" fill="#d42a1c" stroke="#d42a1c" stroke-width="0.2">25−Oct</text>
<text x="214.53" y="41.3" font-size="11" text-anchor="middle" fill="#d42a1c" stroke="#d42a1c" stroke-width="0.2">Wed</text>
<text x="214.53" y="52.6" font-size="11" text-anchor="middle" fill="#d42a1c" stroke="#d42a1c" stroke-width="0.2">26−Oct</text>
<text x="291.10" y="41.3" font-size="11" text-anchor="middle" fill="#d42a1c" stroke="#d42a1c" stroke-width="0.2">Thu</text>
<text x="291.10" y="52.6" font-size="11" text-anchor="middle" fill="#d42a1c" stroke="#d42a1c" stroke-width="0.2">27−Oct</text>
<text x="367.67" y="41.3" font-size="11" text-anchor="middle" fill="#d42a1c" stroke="#d42a1c" stroke-width="0.2">Fri</text>
<text x="367.67" y="52.6" font-size="11" text-anchor="middle" fill="#d42a1c" stroke="#d42a1c" stroke-width="0.2">28−Oct</text>
<text x="444.24" y="41.3" font-size="11" text-anchor="middle" fill="#d42a1c" stroke="#d42a1c" stroke-width="0.2">Sat</text>
<text x="444.24" y="52.6" font-size="11" text-anchor="middle" fill="#d42a1c" stroke="#d42a1c" stroke-width="0.2">29−Oct</text>
<text x="520.82" y="41.3" font-size="11" text-anchor="middle" fill="#d42a1c" stroke="#d42a1c" stroke-width="0.2">Sun</text>
<text x="520.82" y="52.6" font-size="11" text-anchor="middle" fill="#d42a1c" stroke="#d42a1c" stroke-width="0.2">30−Oct</text>
<text x="597.39" y="41.3" font-size="11" text-anchor="middle" fill="#d42a1c" stroke="#d42a1c" stroke-width="0.2">Mon</text>
<text x="597.39" y="52.6" font-size="11" text-anchor="middle" fill="#d42a1c" stroke="#d42a1c" stroke-width="0.2">31−Oct</text>
<text x="673.96" y="41.3" font-size="11" text-anchor="middle" fill="#d42a1c" stroke="#d42a1c" stroke-width="0.2">Tue</text>
<text x="673.96" y="52.6" font-size="11" text-anchor="middle" fill="#d42a1c" stroke="#d42a1c" stroke-width="0.2">01−Nov</text>
<line x1="49.5" y1="57.7" x2="49.5" y2="464.9" stroke="#000" stroke-width="1.2" stroke-linecap="round"/>
<line x1="42.2" y1="455.30" x2="49.5" y2="455.30" stroke="#555" stroke-width="1"/>
<text x="35.3" y="459.70" font-size="11.5" text-anchor="end" class="d" fill="#222">−1 m</text>
<line x1="45.8" y1="440.70" x2="49.5" y2="440.70" stroke="#666" stroke-width="1"/>
<line x1="42.2" y1="426.10" x2="49.5" y2="426.10" stroke="#555" stroke-width="1"/>
<text x="35.3" y="430.50" font-size="11.5" text-anchor="end" class="d" fill="#222">0 m</text>
<line x1="45.8" y1="411.50" x2="49.5" y2="411.50" stroke="#666" stroke-width="1"/>
<line x1="42.2" y1="396.90" x2="49.5" y2="396.90" stroke="#555" stroke-width="1"/>
<text x="35.3" y="401.30" font-size="11.5" text-anchor="end" class="d" fill="#222">1 m</text>
<line x1="45.8" y1="382.30" x2="49.5" y2="382.30" stroke="#666" stroke-width="1"/>
<line x1="42.2" y1="367.70" x2="49.5" y2="367.70" stroke="#555" stroke-width="1"/>
<text x="35.3" y="372.10" font-size="11.5" text-anchor="end" class="d" fill="#222">2 m</text>
<line x1="45.8" y1="353.10" x2="49.5" y2="353.10" stroke="#666" stroke-width="1"/>
<line x1="42.2" y1="338.50" x2="49.5" y2="338.50" stroke="#555" stroke-width="1"/>
<text x="35.3" y="342.90" font-size="11.5" text-anchor="end" class="d" fill="#222">3 m</text>
<line x1="45.8" y1="323.90" x2="49.5" y2="323.90" stroke="#666" stroke-width="1"/>
<line x1="42.2" y1="309.30" x2="49.5" y2="309.30" stroke="#555" stroke-width="1"/>
<text x="35.3" y="313.70" font-size="11.5" text-anchor="end" class="d" fill="#222">4 m</text>
<line x1="45.8" y1="294.70" x2="49.5" y2="294.70" stroke="#666" stroke-width="1"/>
<line x1="42.2" y1="280.10" x2="49.5" y2="280.10" stroke="#555" stroke-width="1"/>
<text x="35.3" y="284.50" font-size="11.5" text-anchor="end" class="d" fill="#222">5 m</text>
<line x1="45.8" y1="265.50" x2="49.5" y2="265.50" stroke="#666" stroke-width="1"/>
<line x1="42.2" y1="250.90" x2="49.5" y2="250.90" stroke="#555" stroke-width="1"/>
<text x="35.3" y="255.30" font-size="11.5" text-anchor="end" class="d" fill="#222">6 m</text>
<line x1="45.8" y1="236.30" x2="49.5" y2="236.30" stroke="#666" stroke-width="1"/>
<line x1="42.2" y1="221.70" x2="49.5" y2="221.70" stroke="#555" stroke-width="1"/>
<text x="35.3" y="226.10" font-size="11.5" text-anchor="end" class="d" fill="#222">7 m</text>
<line x1="45.8" y1="207.10" x2="49.5" y2="207.10" stroke="#666" stroke-width="1"/>
<line x1="42.2" y1="192.50" x2="49.5" y2="192.50" stroke="#555" stroke-width="1"/>
<text x="35.3" y="196.90" font-size="11.5" text-anchor="end" class="d" fill="#222">8 m</text>
<line x1="45.8" y1="177.90" x2="49.5" y2="177.90" stroke="#666" stroke-width="1"/>
<line x1="42.2" y1="163.30" x2="49.5" y2="163.30" stroke="#555" stroke-width="1"/>
<text x="35.3" y="167.70" font-size="11.5" text-anchor="end" class="d" fill="#222">9 m</text>
<line x1="45.8" y1="148.70" x2="49.5" y2="148.70" stroke="#666" stroke-width="1"/>
<line x1="42.2" y1="134.10" x2="49.5" y2="134.10" stroke="#555" stroke-width="1"/>
<text x="35.3" y="138.50" font-size="11.5" text-anchor="end" class="d" fill="#222">10 m</text>
<line x1="45.8" y1="119.50" x2="49.5" y2="119.50" stroke="#666" stroke-width="1"/>
<line x1="42.2" y1="104.90" x2="49.5" y2="104.90" stroke="#555" stroke-width="1"/>
<text x="35.3" y="109.30" font-size="11.5" text-anchor="end" class="d" fill="#222">11 m</text>
<line x1="45.8" y1="90.30" x2="49.5" y2="90.30" stroke="#666" stroke-width="1"/>
<line x1="42.2" y1="75.70" x2="49.5" y2="75.70" stroke="#555" stroke-width="1"/>
<text x="35.3" y="80.10" font-size="11.5" text-anchor="end" class="d" fill="#222">12 m</text>
<line x1="45.8" y1="61.10" x2="49.5" y2="61.10" stroke="#666" stroke-width="1"/>
<line x1="743" y1="57.7" x2="743" y2="464.9" stroke="#111" stroke-width="1.8" stroke-linecap="round"/>
<line x1="743" y1="461.70" x2="750" y2="461.70" stroke="#555" stroke-width="1"/>
<text x="781" y="466.20" font-size="11.5" word-spacing="1.2" text-anchor="end" class="d" fill="#222">−4 ft</text>
<line x1="743" y1="452.80" x2="746.5" y2="452.80" stroke="#666" stroke-width="1"/>
<line x1="743" y1="443.90" x2="750" y2="443.90" stroke="#555" stroke-width="1"/>
<text x="781" y="448.40" font-size="11.5" word-spacing="1.2" text-anchor="end" class="d" fill="#222">−2 ft</text>
<line x1="743" y1="435.00" x2="746.5" y2="435.00" stroke="#666" stroke-width="1"/>
<line x1="743" y1="426.10" x2="750" y2="426.10" stroke="#555" stroke-width="1"/>
<text x="781" y="430.60" font-size="11.5" word-spacing="1.2" text-anchor="end" class="d" fill="#222">0 ft</text>
<line x1="743" y1="417.20" x2="746.5" y2="417.20" stroke="#666" stroke-width="1"/>
<line x1="743" y1="408.30" x2="750" y2="408.30" stroke="#555" stroke-width="1"/>
<text x="781" y="412.80" font-size="11.5" word-spacing="1.2" text-anchor="end" class="d" fill="#222">2 ft</text>
<line x1="743" y1="399.40" x2="746.5" y2="399.40" stroke="#666" stroke-width="1"/>
<line x1="743" y1="390.50" x2="750" y2="390.50" stroke="#555" stroke-width="1"/>
<text x="781" y="395.00" font-size="11.5" word-spacing="1.2" text-anchor="end" class="d" fill="#222">4 ft</text>
<line x1="743" y1="381.60" x2="746.5" y2="381.60" stroke="#666" stroke-width="1"/>
<line x1="743" y1="372.70" x2="750" y2="372.70" stroke="#555" stroke-width="1"/>
<text x="781" y="377.20" font-size="11.5" word-spacing="1.2" text-anchor="end" class="d" fill="#222">6 ft</text>
<line x1="743" y1="363.80" x2="746.5" y2="363.80" stroke="#666" stroke-width="1"/>
<line x1="743" y1="354.90" x2="750" y2="354.90" stroke="#555" stroke-width="1"/>
<text x="781" y="359.40" font-size="11.5" word-spacing="1.2" text-anchor="end" class="d" fill="#222">8 ft</text>
<line x1="743" y1="346.00" x2="746.5" y2="346.00" stroke="#666" stroke-width="1"/>
<line x1="743" y1="337.10" x2="750" y2="337.10" stroke="#555" stroke-width="1"/>
<text x="781" y="341.60" font-size="11.5" word-spacing="1.2" text-anchor="end" class="d" fill="#222">10 ft</text>
<line x1="743" y1="328.20" x2="746.5" y2="328.20" stroke="#666" stroke-width="1"/>
<line x1="743" y1="319.30" x2="750" y2="319.30" stroke="#555" stroke-width="1"/>
<text x="781" y="323.80" font-size="11.5" word-spacing="1.2" text-anchor="end" class="d" fill="#222">12 ft</text>
<line x1="743" y1="310.40" x2="746.5" y2="310.40" stroke="#666" stroke-width="1"/>
<line x1="743" y1="301.50" x2="750" y2="301.50" stroke="#555" stroke-width="1"/>
<text x="781" y="306.00" font-size="11.5" word-spacing="1.2" text-anchor="end" class="d" fill="#222">14 ft</text>
<line x1="743" y1="292.60" x2="746.5" y2="292.60" stroke="#666" stroke-width="1"/>
<line x1="743" y1="283.70" x2="750" y2="283.70" stroke="#555" stroke-width="1"/>
<text x="781" y="288.20" font-size="11.5" word-spacing="1.2" text-anchor="end" class="d" fill="#222">16 ft</text>
<line x1="743" y1="274.80" x2="746.5" y2="274.80" stroke="#666" stroke-width="1"/>
<line x1="743" y1="265.90" x2="750" y2="265.90" stroke="#555" stroke-width="1"/>
<text x="781" y="270.40" font-size="11.5" word-spacing="1.2" text-anchor="end" class="d" fill="#222">18 ft</text>
<line x1="743" y1="257.00" x2="746.5" y2="257.00" stroke="#666" stroke-width="1"/>
<line x1="743" y1="248.10" x2="750" y2="248.10" stroke="#555" stroke-width="1"/>
<text x="781" y="252.60" font-size="11.5" word-spacing="1.2" text-anchor="end" class="d" fill="#222">20 ft</text>
<line x1="743" y1="239.20" x2="746.5" y2="239.20" stroke="#666" stroke-width="1"/>
<line x1="743" y1="230.30" x2="750" y2="230.30" stroke="#555" stroke-width="1"/>
<text x="781" y="234.80" font-size="11.5" word-spacing="1.2" text-anchor="end" class="d" fill="#222">22 ft</text>
<line x1="743" y1="221.40" x2="746.5" y2="221.40" stroke="#666" stroke-width="1"/>
<line x1="743" y1="212.50" x2="750" y2="212.50" stroke="#555" stroke-width="1"/>
<text x="781" y="217.00" font-size="11.5" word-spacing="1.2" text-anchor="end" class="d" fill="#222">24 ft</text>
<line x1="743" y1="203.60" x2="746.5" y2="203.60" stroke="#666" stroke-width="1"/>
<line x1="743" y1="194.70" x2="750" y2="194.70" stroke="#555" stroke-width="1"/>
<text x="781" y="199.20" font-size="11.5" word-spacing="1.2" text-anchor="end" class="d" fill="#222">26 ft</text>
<line x1="743" y1="185.80" x2="746.5" y2="185.80" stroke="#666" stroke-width="1"/>
<line x1="743" y1="176.90" x2="750" y2="176.90" stroke="#555" stroke-width="1"/>
<text x="781" y="181.40" font-size="11.5" word-spacing="1.2" text-anchor="end" class="d" fill="#222">28 ft</text>
<line x1="743" y1="168.00" x2="746.5" y2="168.00" stroke="#666" stroke-width="1"/>
<line x1="743" y1="159.10" x2="750" y2="159.10" stroke="#555" stroke-width="1"/>
<text x="781" y="163.60" font-size="11.5" word-spacing="1.2" text-anchor="end" class="d" fill="#222">30 ft</text>
<line x1="743" y1="150.20" x2="746.5" y2="150.20" stroke="#666" stroke-width="1"/>
<line x1="743" y1="141.29" x2="750" y2="141.29" stroke="#555" stroke-width="1"/>
<text x="781" y="145.79" font-size="11.5" word-spacing="1.2" text-anchor="end" class="d" fill="#222">32 ft</text>
<line x1="743" y1="132.39" x2="746.5" y2="132.39" stroke="#666" stroke-width="1"/>
<line x1="743" y1="123.49" x2="750" y2="123.49" stroke="#555" stroke-width="1"/>
<text x="781" y="127.99" font-size="11.5" word-spacing="1.2" text-anchor="end" class="d" fill="#222">34 ft</text>
<line x1="743" y1="114.59" x2="746.5" y2="114.59" stroke="#666" stroke-width="1"/>
<line x1="743" y1="105.69" x2="750" y2="105.69" stroke="#555" stroke-width="1"/>
<text x="781" y="110.19" font-size="11.5" word-spacing="1.2" text-anchor="end" class="d" fill="#222">36 ft</text>
<line x1="743" y1="96.79" x2="746.5" y2="96.79" stroke="#666" stroke-width="1"/>
<line x1="743" y1="87.89" x2="750" y2="87.89" stroke="#555" stroke-width="1"/>
<text x="781" y="92.39" font-size="11.5" word-spacing="1.2" text-anchor="end" class="d" fill="#222">38 ft</text>
<line x1="743" y1="78.99" x2="746.5" y2="78.99" stroke="#666" stroke-width="1"/>
<line x1="743" y1="70.09" x2="750" y2="70.09" stroke="#555" stroke-width="1"/>
<text x="781" y="74.59" font-size="11.5" word-spacing="1.2" text-anchor="end" class="d" fill="#222">40 ft</text>
<line x1="743" y1="61.19" x2="746.5" y2="61.19" stroke="#666" stroke-width="1"/>
<circle cx="120.30" cy="395.15" r="1.9" fill="#000"/>
<text x="120.30" y="405.55" font-size="9.5" text-anchor="middle" class="d" fill="#222">1.06 m</text>
<text x="120.30" y="415.55" font-size="9.5" text-anchor="middle" class="d" fill="#222">3.5 ft</text>
<text x="120.30" y="425.05" font-size="9.5" text-anchor="middle" class="d" fill="#222">6:28 am</text>
<circle cx="139.60" cy="115.41" r="1.9" fill="#000"/>
<text x="139.60" y="94.11" font-size="9.5" text-anchor="middle" class="d" fill="#222">12:31 pm</text>
<text x="139.60" y="102.51" font-size="9.5" text-anchor="middle" class="d" fill="#222">34.9 ft</text>
<text x="139.60" y="112.21" font-size="9.5" text-anchor="middle" class="d" fill="#222">10.64 m</text>
<circle cx="159.92" cy="404.49" r="1.9" fill="#000"/>
<text x="159.92" y="414.89" font-size="9.5" text-anchor="middle" class="d" fill="#222">0.74 m</text>
<text x="159.92" y="424.89" font-size="9.5" text-anchor="middle" class="d" fill="#222">2.4 ft</text>
<text x="159.92" y="434.39" font-size="9.5" text-anchor="middle" class="d" fill="#222">6:53 pm</text>
<circle cx="179.11" cy="120.96" r="1.9" fill="#000"/>
<text x="179.11" y="99.66" font-size="9.5" text-anchor="middle" class="d" fill="#222">12:54 am</text>
<text x="179.11" y="108.06" font-size="9.5" text-anchor="middle" class="d" fill="#222">34.3 ft</text>
<text x="179.11" y="117.76" font-size="9.5" text-anchor="middle" class="d" fill="#222">10.45 m</text>
<circle cx="199.11" cy="399.53" r="1.9" fill="#000"/>
<text x="199.11" y="409.93" font-size="9.5" text-anchor="middle" class="d" fill="#222">0.91 m</text>
<text x="199.11" y="419.93" font-size="9.5" text-anchor="middle" class="d" fill="#222">3.0 ft</text>
<text x="199.11" y="429.43" font-size="9.5" text-anchor="middle" class="d" fill="#222">7:10 am</text>
<circle cx="218.36" cy="109.28" r="1.9" fill="#000"/>
<text x="218.36" y="87.98" font-size="9.5" text-anchor="middle" class="d" fill="#222">1:12 pm</text>
<text x="218.36" y="96.38" font-size="9.5" text-anchor="middle" class="d" fill="#222">35.6 ft</text>
<text x="218.36" y="106.08" font-size="9.5" text-anchor="middle" class="d" fill="#222">10.85 m</text>
<circle cx="238.72" cy="409.75" r="1.9" fill="#000"/>
<text x="238.72" y="420.15" font-size="9.5" text-anchor="middle" class="d" fill="#222">0.56 m</text>
<text x="238.72" y="430.15" font-size="9.5" text-anchor="middle" class="d" fill="#222">1.8 ft</text>
<text x="238.72" y="439.65" font-size="9.5" text-anchor="middle" class="d" fill="#222">7:35 pm</text>
<circle cx="257.97" cy="119.21" r="1.9" fill="#000"/>
<text x="257.97" y="97.91" font-size="9.5" text-anchor="middle" class="d" fill="#222">1:37 am</text>
<text x="257.97" y="106.31" font-size="9.5" text-anchor="middle" class="d" fill="#222">34.5 ft</text>
<text x="257.97" y="116.01" font-size="9.5" text-anchor="middle" class="d" fill="#222">10.51 m</text>
<circle cx="277.91" cy="399.82" r="1.9" fill="#000"/>
<text x="277.91" y="410.22" font-size="9.5" text-anchor="middle" class="d" fill="#222">0.90 m</text>
<text x="277.91" y="420.22" font-size="9.5" text-anchor="middle" class="d" fill="#222">3.0 ft</text>
<text x="277.91" y="429.72" font-size="9.5" text-anchor="middle" class="d" fill="#222">7:52 am</text>
<circle cx="297.22" cy="107.82" r="1.9" fill="#000"/>
<text x="297.22" y="86.52" font-size="9.5" text-anchor="middle" class="d" fill="#222">1:55 pm</text>
<text x="297.22" y="94.92" font-size="9.5" text-anchor="middle" class="d" fill="#222">35.8 ft</text>
<text x="297.22" y="104.62" font-size="9.5" text-anchor="middle" class="d" fill="#222">10.90 m</text>
<circle cx="317.63" cy="410.62" r="1.9" fill="#000"/>
<text x="317.63" y="421.02" font-size="9.5" text-anchor="middle" class="d" fill="#222">0.53 m</text>
<text x="317.63" y="431.02" font-size="9.5" text-anchor="middle" class="d" fill="#222">1.7 ft</text>
<text x="317.63" y="440.52" font-size="9.5" text-anchor="middle" class="d" fill="#222">8:19 pm</text>
<circle cx="336.94" cy="121.25" r="1.9" fill="#000"/>
<text x="336.94" y="99.95" font-size="9.5" text-anchor="middle" class="d" fill="#222">2:22 am</text>
<text x="336.94" y="108.35" font-size="9.5" text-anchor="middle" class="d" fill="#222">34.3 ft</text>
<text x="336.94" y="118.05" font-size="9.5" text-anchor="middle" class="d" fill="#222">10.44 m</text>
<circle cx="356.88" cy="396.32" r="1.9" fill="#000"/>
<text x="356.88" y="406.72" font-size="9.5" text-anchor="middle" class="d" fill="#222">1.02 m</text>
<text x="356.88" y="416.72" font-size="9.5" text-anchor="middle" class="d" fill="#222">3.3 ft</text>
<text x="356.88" y="426.22" font-size="9.5" text-anchor="middle" class="d" fill="#222">8:37 am</text>
<circle cx="376.18" cy="110.74" r="1.9" fill="#000"/>
<text x="376.18" y="89.44" font-size="9.5" text-anchor="middle" class="d" fill="#222">2:40 pm</text>
<text x="376.18" y="97.84" font-size="9.5" text-anchor="middle" class="d" fill="#222">35.4 ft</text>
<text x="376.18" y="107.54" font-size="9.5" text-anchor="middle" class="d" fill="#222">10.80 m</text>
<circle cx="396.71" cy="407.12" r="1.9" fill="#000"/>
<text x="396.71" y="417.52" font-size="9.5" text-anchor="middle" class="d" fill="#222">0.65 m</text>
<text x="396.71" y="427.52" font-size="9.5" text-anchor="middle" class="d" fill="#222">2.1 ft</text>
<text x="396.71" y="437.02" font-size="9.5" text-anchor="middle" class="d" fill="#222">9:06 pm</text>
<circle cx="416.06" cy="127.38" r="1.9" fill="#000"/>
<text x="416.06" y="106.08" font-size="9.5" text-anchor="middle" class="d" fill="#222">3:10 am</text>
<text x="416.06" y="114.48" font-size="9.5" text-anchor="middle" class="d" fill="#222">33.6 ft</text>
<text x="416.06" y="124.18" font-size="9.5" text-anchor="middle" class="d" fill="#222">10.23 m</text>
<circle cx="436.00" cy="389.31" r="1.9" fill="#000"/>
<text x="436.00" y="399.71" font-size="9.5" text-anchor="middle" class="d" fill="#222">1.26 m</text>
<text x="436.00" y="409.71" font-size="9.5" text-anchor="middle" class="d" fill="#222">4.1 ft</text>
<text x="436.00" y="419.21" font-size="9.5" text-anchor="middle" class="d" fill="#222">9:25 am</text>
<circle cx="455.36" cy="118.04" r="1.9" fill="#000"/>
<text x="455.36" y="96.74" font-size="9.5" text-anchor="middle" class="d" fill="#222">3:29 pm</text>
<text x="455.36" y="105.14" font-size="9.5" text-anchor="middle" class="d" fill="#222">34.6 ft</text>
<text x="455.36" y="114.84" font-size="9.5" text-anchor="middle" class="d" fill="#222">10.55 m</text>
<circle cx="475.94" cy="399.82" r="1.9" fill="#000"/>
<text x="475.94" y="410.22" font-size="9.5" text-anchor="middle" class="d" fill="#222">0.90 m</text>
<text x="475.94" y="420.22" font-size="9.5" text-anchor="middle" class="d" fill="#222">3.0 ft</text>
<text x="475.94" y="429.72" font-size="9.5" text-anchor="middle" class="d" fill="#222">9:56 pm</text>
<circle cx="495.45" cy="136.14" r="1.9" fill="#000"/>
<text x="495.45" y="114.84" font-size="9.5" text-anchor="middle" class="d" fill="#222">4:03 am</text>
<text x="495.45" y="123.24" font-size="9.5" text-anchor="middle" class="d" fill="#222">32.6 ft</text>
<text x="495.45" y="132.94" font-size="9.5" text-anchor="middle" class="d" fill="#222">9.93 m</text>
<circle cx="515.39" cy="380.26" r="1.9" fill="#000"/>
<text x="515.39" y="390.66" font-size="9.5" text-anchor="middle" class="d" fill="#222">1.57 m</text>
<text x="515.39" y="400.66" font-size="9.5" text-anchor="middle" class="d" fill="#222">5.2 ft</text>
<text x="515.39" y="410.16" font-size="9.5" text-anchor="middle" class="d" fill="#222">10:18 am</text>
<circle cx="534.85" cy="127.97" r="1.9" fill="#000"/>
<text x="534.85" y="106.67" font-size="9.5" text-anchor="middle" class="d" fill="#222">4:24 pm</text>
<text x="534.85" y="115.07" font-size="9.5" text-anchor="middle" class="d" fill="#222">33.5 ft</text>
<text x="534.85" y="124.77" font-size="9.5" text-anchor="middle" class="d" fill="#222">10.21 m</text>
<circle cx="555.43" cy="390.48" r="1.9" fill="#000"/>
<text x="555.43" y="400.88" font-size="9.5" text-anchor="middle" class="d" fill="#222">1.22 m</text>
<text x="555.43" y="410.88" font-size="9.5" text-anchor="middle" class="d" fill="#222">4.0 ft</text>
<text x="555.43" y="420.38" font-size="9.5" text-anchor="middle" class="d" fill="#222">10:51 pm</text>
<circle cx="575.11" cy="144.90" r="1.9" fill="#000"/>
<text x="575.11" y="123.60" font-size="9.5" text-anchor="middle" class="d" fill="#222">5:01 am</text>
<text x="575.11" y="132.00" font-size="9.5" text-anchor="middle" class="d" fill="#222">31.6 ft</text>
<text x="575.11" y="141.70" font-size="9.5" text-anchor="middle" class="d" fill="#222">9.63 m</text>
<circle cx="595.05" cy="371.20" r="1.9" fill="#000"/>
<text x="595.05" y="381.60" font-size="9.5" text-anchor="middle" class="d" fill="#222">1.88 m</text>
<text x="595.05" y="391.60" font-size="9.5" text-anchor="middle" class="d" fill="#222">6.2 ft</text>
<text x="595.05" y="401.10" font-size="9.5" text-anchor="middle" class="d" fill="#222">11:16 am</text>
<circle cx="614.67" cy="137.90" r="1.9" fill="#000"/>
<text x="614.67" y="116.60" font-size="9.5" text-anchor="middle" class="d" fill="#222">5:25 pm</text>
<text x="614.67" y="125.00" font-size="9.5" text-anchor="middle" class="d" fill="#222">32.4 ft</text>
<text x="614.67" y="134.70" font-size="9.5" text-anchor="middle" class="d" fill="#222">9.87 m</text>
<circle cx="635.25" cy="382.01" r="1.9" fill="#000"/>
<text x="635.25" y="392.41" font-size="9.5" text-anchor="middle" class="d" fill="#222">1.51 m</text>
<text x="635.25" y="402.41" font-size="9.5" text-anchor="middle" class="d" fill="#222">5.0 ft</text>
<text x="635.25" y="411.91" font-size="9.5" text-anchor="middle" class="d" fill="#222">11:52 pm</text>
<circle cx="655.14" cy="151.33" r="1.9" fill="#000"/>
<text x="655.14" y="130.03" font-size="9.5" text-anchor="middle" class="d" fill="#222">6:06 am</text>
<text x="655.14" y="138.43" font-size="9.5" text-anchor="middle" class="d" fill="#222">30.9 ft</text>
<text x="655.14" y="148.13" font-size="9.5" text-anchor="middle" class="d" fill="#222">9.41 m</text>
<circle cx="675.02" cy="365.07" r="1.9" fill="#000"/>
<text x="675.02" y="375.47" font-size="9.5" text-anchor="middle" class="d" fill="#222">2.09 m</text>
<text x="675.02" y="385.47" font-size="9.5" text-anchor="middle" class="d" fill="#222">6.9 ft</text>
<text x="675.02" y="394.97" font-size="9.5" text-anchor="middle" class="d" fill="#222">12:20 pm</text>
<circle cx="694.80" cy="144.90" r="1.9" fill="#000"/>
<text x="694.80" y="123.60" font-size="9.5" text-anchor="middle" class="d" fill="#222">6:32 pm</text>
<text x="694.80" y="132.00" font-size="9.5" text-anchor="middle" class="d" fill="#222">31.6 ft</text>
<text x="694.80" y="141.70" font-size="9.5" text-anchor="middle" class="d" fill="#222">9.63 m</text>
<text x="45.6" y="480.0" font-size="11" text-anchor="end" class="d" fill="#222">Sunrise</text>
<text x="746.5" y="480.0" font-size="11" class="d" fill="#222">Sunrise</text>
<text x="45.6" y="493.7" font-size="11" text-anchor="end" class="d" fill="#222">Sunset</text>
<text x="746.5" y="493.7" font-size="11" class="d" fill="#222">Sunset</text>
<text x="45.6" y="507.3" font-size="11" text-anchor="end" class="d" fill="#222">Moonrise</text>
<text x="746.5" y="507.3" font-size="11" class="d" fill="#222">Moonrise</text>
<text x="45.6" y="520.7" font-size="11" text-anchor="end" class="d" fill="#222">Moonset</text>
<text x="746.5" y="520.7" font-size="11" class="d" fill="#222">Moonset</text>
<circle cx="124.61" cy="475.60" r="4.75" fill="#9c7a1c"/><polygon points="124.61,468.60 122.98,471.95 126.24,471.95" fill="#9c7a1c"/><polygon points="131.27,473.44 127.58,472.92 128.59,476.02" fill="#9c7a1c"/><polygon points="128.72,481.26 128.08,477.60 125.44,479.51" fill="#9c7a1c"/><polygon points="120.49,481.26 123.78,479.51 121.14,477.60" fill="#9c7a1c"/><polygon points="117.95,473.44 120.63,476.02 121.64,472.92" fill="#9c7a1c"/><circle cx="124.61" cy="475.60" r="3.95" fill="#c9c64c"/>
<text x="131.61" y="479.4" font-size="10" letter-spacing="-0.3" class="d" fill="#222">7:49am</text>
<circle cx="158.00" cy="489.30" r="4.75" fill="#8e7620"/><polygon points="158.00,482.30 156.37,485.65 159.63,485.65" fill="#8e7620"/><polygon points="164.66,487.14 160.97,486.62 161.98,489.72" fill="#8e7620"/><polygon points="162.12,494.96 161.47,491.30 158.83,493.21" fill="#8e7620"/><polygon points="153.89,494.96 157.18,493.21 154.54,491.30" fill="#8e7620"/><polygon points="151.35,487.14 154.03,489.72 155.03,486.62" fill="#8e7620"/><circle cx="158.00" cy="489.30" r="3.95" fill="#e0582a"/>
<text x="164.00" y="493.5" font-size="10" letter-spacing="-0.3" class="d" fill="#222">6:17pm</text>
<circle cx="124.77" cy="502.9" r="4.85" fill="#ffffc4" stroke="#a8a890" stroke-width="1"/>
<text x="131.77" y="506.6" font-size="10" letter-spacing="-0.3" class="d" fill="#222">7:52am</text>
<circle cx="158.53" cy="516.5" r="4.9" fill="#c8c8b4" stroke="#707070" stroke-width="1"/>
<text x="164.73" y="520.4" font-size="10" letter-spacing="-0.3" class="d" fill="#222">6:27pm</text>
<circle cx="201.23" cy="475.60" r="4.75" fill="#9c7a1c"/><polygon points="201.23,468.60 199.60,471.95 202.87,471.95" fill="#9c7a1c"/><polygon points="207.89,473.44 204.20,472.92 205.21,476.02" fill="#9c7a1c"/><polygon points="205.35,481.26 204.70,477.60 202.06,479.51" fill="#9c7a1c"/><polygon points="197.12,481.26 200.41,479.51 197.77,477.60" fill="#9c7a1c"/><polygon points="194.58,473.44 197.26,476.02 198.26,472.92" fill="#9c7a1c"/><circle cx="201.23" cy="475.60" r="3.95" fill="#c9c64c"/>
<text x="208.23" y="479.4" font-size="10" letter-spacing="-0.3" class="d" fill="#222">7:50am</text>
<circle cx="234.47" cy="489.30" r="4.75" fill="#8e7620"/><polygon points="234.47,482.30 232.84,485.65 236.10,485.65" fill="#8e7620"/><polygon points="241.13,487.14 237.44,486.62 238.45,489.72" fill="#8e7620"/><polygon points="238.58,494.96 237.93,491.30 235.30,493.21" fill="#8e7620"/><polygon points="230.35,494.96 233.64,493.21 231.00,491.30" fill="#8e7620"/><polygon points="227.81,487.14 230.49,489.72 231.50,486.62" fill="#8e7620"/><circle cx="234.47" cy="489.30" r="3.95" fill="#e0582a"/>
<text x="240.47" y="493.5" font-size="10" letter-spacing="-0.3" class="d" fill="#222">6:15pm</text>
<circle cx="205.49" cy="502.9" r="4.85" fill="#ffffc4" stroke="#a8a890" stroke-width="1"/>
<text x="212.49" y="506.6" font-size="10" letter-spacing="-0.3" class="d" fill="#222">9:10am</text>
<circle cx="236.49" cy="516.5" r="4.9" fill="#c8c8b4" stroke="#707070" stroke-width="1"/>
<text x="242.69" y="520.4" font-size="10" letter-spacing="-0.3" class="d" fill="#222">6:53pm</text>
<circle cx="277.91" cy="475.60" r="4.75" fill="#9c7a1c"/><polygon points="277.91,468.60 276.28,471.95 279.54,471.95" fill="#9c7a1c"/><polygon points="284.57,473.44 280.88,472.92 281.89,476.02" fill="#9c7a1c"/><polygon points="282.03,481.26 281.38,477.60 278.74,479.51" fill="#9c7a1c"/><polygon points="273.80,481.26 277.09,479.51 274.45,477.60" fill="#9c7a1c"/><polygon points="271.26,473.44 273.93,476.02 274.94,472.92" fill="#9c7a1c"/><circle cx="277.91" cy="475.60" r="3.95" fill="#c9c64c"/>
<text x="284.91" y="479.4" font-size="10" letter-spacing="-0.3" class="d" fill="#222">7:52am</text>
<circle cx="310.93" cy="489.30" r="4.75" fill="#8e7620"/><polygon points="310.93,482.30 309.30,485.65 312.57,485.65" fill="#8e7620"/><polygon points="317.59,487.14 313.90,486.62 314.91,489.72" fill="#8e7620"/><polygon points="315.05,494.96 314.40,491.30 311.76,493.21" fill="#8e7620"/><polygon points="306.82,494.96 310.11,493.21 307.47,491.30" fill="#8e7620"/><polygon points="304.28,487.14 306.96,489.72 307.96,486.62" fill="#8e7620"/><circle cx="310.93" cy="489.30" r="3.95" fill="#e0582a"/>
<text x="316.93" y="493.5" font-size="10" letter-spacing="-0.3" class="d" fill="#222">6:13pm</text>
<circle cx="286.31" cy="502.9" r="4.85" fill="#ffffc4" stroke="#a8a890" stroke-width="1"/>
<text x="293.31" y="506.6" font-size="10" letter-spacing="-0.3" class="d" fill="#222">10:30am</text>
<circle cx="314.82" cy="516.5" r="4.9" fill="#c8c8b4" stroke="#707070" stroke-width="1"/>
<text x="321.02" y="520.4" font-size="10" letter-spacing="-0.3" class="d" fill="#222">7:26pm</text>
<circle cx="354.54" cy="475.60" r="4.75" fill="#9c7a1c"/><polygon points="354.54,468.60 352.91,471.95 356.17,471.95" fill="#9c7a1c"/><polygon points="361.20,473.44 357.51,472.92 358.52,476.02" fill="#9c7a1c"/><polygon points="358.65,481.26 358.00,477.60 355.37,479.51" fill="#9c7a1c"/><polygon points="350.42,481.26 353.71,479.51 351.07,477.60" fill="#9c7a1c"/><polygon points="347.88,473.44 350.56,476.02 351.57,472.92" fill="#9c7a1c"/><circle cx="354.54" cy="475.60" r="3.95" fill="#c9c64c"/>
<text x="361.54" y="479.4" font-size="10" letter-spacing="-0.3" class="d" fill="#222">7:53am</text>
<circle cx="387.45" cy="489.30" r="4.75" fill="#8e7620"/><polygon points="387.45,482.30 385.82,485.65 389.08,485.65" fill="#8e7620"/><polygon points="394.11,487.14 390.42,486.62 391.43,489.72" fill="#8e7620"/><polygon points="391.57,494.96 390.92,491.30 388.28,493.21" fill="#8e7620"/><polygon points="383.34,494.96 386.63,493.21 383.99,491.30" fill="#8e7620"/><polygon points="380.80,487.14 383.48,489.72 384.48,486.62" fill="#8e7620"/><circle cx="387.45" cy="489.30" r="3.95" fill="#e0582a"/>
<text x="393.45" y="493.5" font-size="10" letter-spacing="-0.3" class="d" fill="#222">6:12pm</text>
<circle cx="367.09" cy="502.9" r="4.85" fill="#ffffc4" stroke="#a8a890" stroke-width="1"/>
<text x="374.09" y="506.6" font-size="10" letter-spacing="-0.3" class="d" fill="#222">11:49am</text>
<circle cx="393.67" cy="516.5" r="4.9" fill="#c8c8b4" stroke="#707070" stroke-width="1"/>
<text x="399.87" y="520.4" font-size="10" letter-spacing="-0.3" class="d" fill="#222">8:09pm</text>
<circle cx="431.16" cy="475.60" r="4.75" fill="#9c7a1c"/><polygon points="431.16,468.60 429.53,471.95 432.79,471.95" fill="#9c7a1c"/><polygon points="437.82,473.44 434.13,472.92 435.14,476.02" fill="#9c7a1c"/><polygon points="435.28,481.26 434.63,477.60 431.99,479.51" fill="#9c7a1c"/><polygon points="427.05,481.26 430.34,479.51 427.70,477.60" fill="#9c7a1c"/><polygon points="424.51,473.44 427.19,476.02 428.19,472.92" fill="#9c7a1c"/><circle cx="431.16" cy="475.60" r="3.95" fill="#c9c64c"/>
<text x="438.16" y="479.4" font-size="10" letter-spacing="-0.3" class="d" fill="#222">7:54am</text>
<circle cx="463.92" cy="489.30" r="4.75" fill="#8e7620"/><polygon points="463.92,482.30 462.29,485.65 465.55,485.65" fill="#8e7620"/><polygon points="470.58,487.14 466.89,486.62 467.90,489.72" fill="#8e7620"/><polygon points="468.03,494.96 467.39,491.30 464.75,493.21" fill="#8e7620"/><polygon points="459.80,494.96 463.09,493.21 460.45,491.30" fill="#8e7620"/><polygon points="457.26,487.14 459.94,489.72 460.95,486.62" fill="#8e7620"/><circle cx="463.92" cy="489.30" r="3.95" fill="#e0582a"/>
<text x="469.92" y="493.5" font-size="10" letter-spacing="-0.3" class="d" fill="#222">6:10pm</text>
<circle cx="447.54" cy="502.9" r="4.85" fill="#ffffc4" stroke="#a8a890" stroke-width="1"/>
<text x="454.54" y="506.6" font-size="10" letter-spacing="-0.3" class="d" fill="#222">1:02pm</text>
<circle cx="473.28" cy="516.5" r="4.9" fill="#c8c8b4" stroke="#707070" stroke-width="1"/>
<text x="479.48" y="520.4" font-size="10" letter-spacing="-0.3" class="d" fill="#222">9:06pm</text>
<circle cx="507.84" cy="475.60" r="4.75" fill="#9c7a1c"/><polygon points="507.84,468.60 506.21,471.95 509.47,471.95" fill="#9c7a1c"/><polygon points="514.50,473.44 510.81,472.92 511.82,476.02" fill="#9c7a1c"/><polygon points="511.96,481.26 511.31,477.60 508.67,479.51" fill="#9c7a1c"/><polygon points="503.73,481.26 507.01,479.51 504.37,477.60" fill="#9c7a1c"/><polygon points="501.18,473.44 503.86,476.02 504.87,472.92" fill="#9c7a1c"/><circle cx="507.84" cy="475.60" r="3.95" fill="#c9c64c"/>
<text x="514.84" y="479.4" font-size="10" letter-spacing="-0.3" class="d" fill="#222">7:56am</text>
<circle cx="540.44" cy="489.30" r="4.75" fill="#8e7620"/><polygon points="540.44,482.30 538.81,485.65 542.07,485.65" fill="#8e7620"/><polygon points="547.09,487.14 543.41,486.62 544.42,489.72" fill="#8e7620"/><polygon points="544.55,494.96 543.90,491.30 541.26,493.21" fill="#8e7620"/><polygon points="536.32,494.96 539.61,493.21 536.97,491.30" fill="#8e7620"/><polygon points="533.78,487.14 536.46,489.72 537.47,486.62" fill="#8e7620"/><circle cx="540.44" cy="489.30" r="3.95" fill="#e0582a"/>
<text x="546.44" y="493.5" font-size="10" letter-spacing="-0.3" class="d" fill="#222">6:09pm</text>
<circle cx="527.41" cy="502.9" r="4.85" fill="#ffffc4" stroke="#a8a890" stroke-width="1"/>
<text x="534.41" y="506.6" font-size="10" letter-spacing="-0.3" class="d" fill="#222">2:04pm</text>
<circle cx="553.47" cy="516.5" r="4.9" fill="#c8c8b4" stroke="#707070" stroke-width="1"/>
<text x="559.67" y="520.4" font-size="10" letter-spacing="-0.3" class="d" fill="#222">10:14pm</text>
<circle cx="584.47" cy="475.60" r="4.75" fill="#9c7a1c"/><polygon points="584.47,468.60 582.84,471.95 586.10,471.95" fill="#9c7a1c"/><polygon points="591.12,473.44 587.44,472.92 588.44,476.02" fill="#9c7a1c"/><polygon points="588.58,481.26 587.93,477.60 585.29,479.51" fill="#9c7a1c"/><polygon points="580.35,481.26 583.64,479.51 581.00,477.60" fill="#9c7a1c"/><polygon points="577.81,473.44 580.49,476.02 581.50,472.92" fill="#9c7a1c"/><circle cx="584.47" cy="475.60" r="3.95" fill="#c9c64c"/>
<text x="591.47" y="479.4" font-size="10" letter-spacing="-0.3" class="d" fill="#222">7:57am</text>
<circle cx="616.90" cy="489.30" r="4.75" fill="#8e7620"/><polygon points="616.90,482.30 615.27,485.65 618.53,485.65" fill="#8e7620"/><polygon points="623.56,487.14 619.87,486.62 620.88,489.72" fill="#8e7620"/><polygon points="621.02,494.96 620.37,491.30 617.73,493.21" fill="#8e7620"/><polygon points="612.79,494.96 616.08,493.21 613.44,491.30" fill="#8e7620"/><polygon points="610.25,487.14 612.93,489.72 613.93,486.62" fill="#8e7620"/><circle cx="616.90" cy="489.30" r="3.95" fill="#e0582a"/>
<text x="622.90" y="493.5" font-size="10" letter-spacing="-0.3" class="d" fill="#222">6:07pm</text>
<circle cx="606.53" cy="502.9" r="4.85" fill="#ffffc4" stroke="#a8a890" stroke-width="1"/>
<text x="613.53" y="506.6" font-size="10" letter-spacing="-0.3" class="d" fill="#222">2:52pm</text>
<circle cx="634.13" cy="516.5" r="4.9" fill="#c8c8b4" stroke="#707070" stroke-width="1"/>
<text x="640.33" y="520.4" font-size="10" letter-spacing="-0.3" class="d" fill="#222">11:31pm</text>
<circle cx="661.09" cy="475.60" r="4.75" fill="#9c7a1c"/><polygon points="661.09,468.60 659.46,471.95 662.72,471.95" fill="#9c7a1c"/><polygon points="667.75,473.44 664.06,472.92 665.07,476.02" fill="#9c7a1c"/><polygon points="665.21,481.26 664.56,477.60 661.92,479.51" fill="#9c7a1c"/><polygon points="656.98,481.26 660.26,479.51 657.63,477.60" fill="#9c7a1c"/><polygon points="654.43,473.44 657.11,476.02 658.12,472.92" fill="#9c7a1c"/><circle cx="661.09" cy="475.60" r="3.95" fill="#c9c64c"/>
<text x="668.09" y="479.4" font-size="10" letter-spacing="-0.3" class="d" fill="#222">7:58am</text>
<circle cx="693.42" cy="489.30" r="4.75" fill="#8e7620"/><polygon points="693.42,482.30 691.79,485.65 695.05,485.65" fill="#8e7620"/><polygon points="700.08,487.14 696.39,486.62 697.40,489.72" fill="#8e7620"/><polygon points="697.54,494.96 696.89,491.30 694.25,493.21" fill="#8e7620"/><polygon points="689.31,494.96 692.59,493.21 689.96,491.30" fill="#8e7620"/><polygon points="686.76,487.14 689.44,489.72 690.45,486.62" fill="#8e7620"/><circle cx="693.42" cy="489.30" r="3.95" fill="#e0582a"/>
<text x="699.42" y="493.5" font-size="10" letter-spacing="-0.3" class="d" fill="#222">6:06pm</text>
<circle cx="685.02" cy="502.9" r="4.85" fill="#ffffc4" stroke="#a8a890" stroke-width="1"/>
<text x="692.02" y="506.6" font-size="10" letter-spacing="-0.3" class="d" fill="#222">3:28pm</text>
<text x="121.36" y="532.8" font-size="9.8" letter-spacing="-0.15" text-anchor="end" class="d" fill="#222">New Moon</text>
<rect x="124.11" y="528.4" width="0.9" height="8.1" fill="#333"/>
<text x="127.76" y="532.8" font-size="9.8" letter-spacing="-0.3" class="d" fill="#222">7:48am</text>
<text x="644.07" y="532.8" font-size="9.8" letter-spacing="-0.15" text-anchor="end" class="d" fill="#222">First Quarter</text>
<rect x="646.82" y="528.4" width="0.9" height="8.1" fill="#333"/>
<text x="650.47" y="532.8" font-size="9.8" letter-spacing="-0.3" class="d" fill="#222">3:38am</text>
</svg></body></html>
